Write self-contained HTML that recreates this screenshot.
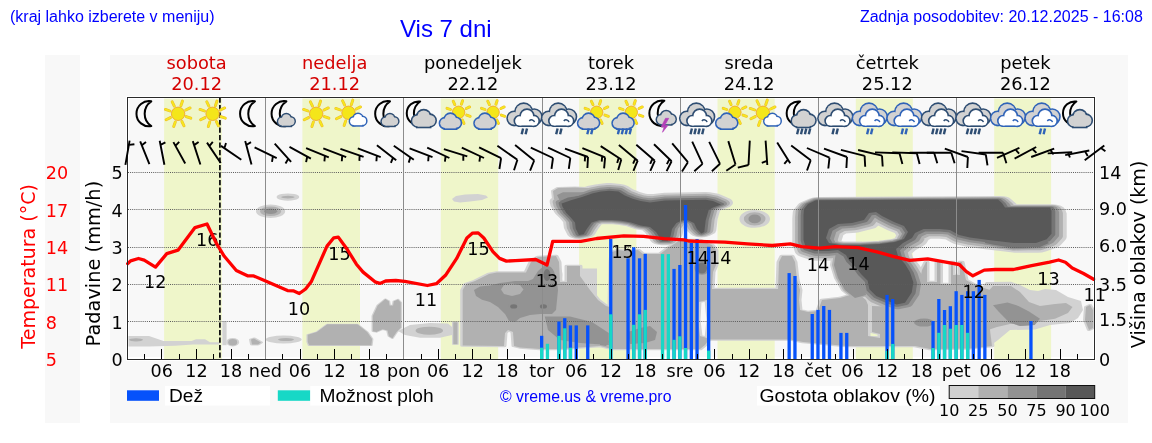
<!DOCTYPE html><html><head><meta charset="utf-8"><style>html,body{margin:0;padding:0;background:#fff;overflow:hidden}svg{display:block}</style></head><body>
<svg width="1152" height="443" viewBox="0 0 1152 443">
<rect width="1152" height="443" fill="#fff"/>
<text x="10" y="21.5" font-family="'Liberation Sans', Arial, sans-serif" font-size="16" fill="#0000ff">(kraj lahko izberete v meniju)</text>
<text x="400" y="37.2" font-family="'Liberation Sans', Arial, sans-serif" font-size="24" fill="#0000ff">Vis 7 dni</text>
<text x="1142.8" y="21.5" text-anchor="end" font-family="'Liberation Sans', Arial, sans-serif" font-size="16" fill="#0000ff">Zadnja posodobitev: 20.12.2025 - 16:08</text>
<rect x="45" y="55" width="35" height="368" fill="#f8f8f8"/>
<rect x="110" y="55" width="1018" height="368" fill="#f8f8f8"/>
<rect x="126" y="96" width="970" height="265" fill="#fff"/>
<rect x="129" y="99" width="964" height="258" fill="#f8f8f8"/>
<rect x="164.1" y="98.6" width="57.7" height="260.4" fill="#eff6ca"/>
<rect x="302.4" y="98.6" width="57.6" height="260.4" fill="#eff6ca"/>
<rect x="440.8" y="98.6" width="57.4" height="260.4" fill="#eff6ca"/>
<rect x="579.1" y="98.6" width="57.3" height="260.4" fill="#eff6ca"/>
<rect x="717.5" y="98.6" width="57.2" height="260.4" fill="#eff6ca"/>
<rect x="855.8" y="98.6" width="57" height="260.4" fill="#eff6ca"/>
<rect x="994.2" y="98.6" width="56.9" height="260.4" fill="#eff6ca"/>
<g transform="scale(1,0.5)" stroke-linejoin="round" fill-rule="evenodd">
<path d="M561.6 406.8 L571 400.6 L582 394 L593 386.4 L601 383.2 L609 381.6 L618.5 383.2 L624.8 391 L632.7 397.4 L640.6 402 L650 404.8 L665 401 L705.7 399.4 L713 402 L721 409 L713 415 L708.7 419.8 L705.7 440.4 L704.3 463.8 L701.3 466.8 L696.9 458 L694 446.2 L688.1 440.4 L682.3 440.4 L676.4 446.2 L672 458 L670.5 472.6 L667.6 482 L662 482 L656 464 L650 454 L640.6 451.2 L631 444.8 L621.6 441.6 L612 440 L599.5 440 L591.6 444.8 L586.9 457.4 L583.7 468.4 L579 470 L575.8 457.4 L575 444.8 L571 435.4 L566.3 426 L562.4 413.2Z" fill="#d2d2d2" stroke="#d2d2d2" stroke-width="24" transform="translate(0,-3.6)"/>
<path d="M553 382 L558 376 L575 375.2 L592 376.4 L602 378.8 L585 385 L570 392 L560 398 L554 398Z" fill="#d2d2d2" stroke="#d2d2d2" stroke-width="4"/>
<path d="M557 390 L563 384.4 L580 384.4 L592 385.2 L578 391 L566 398 L560 402Z" fill="#d2d2d2"/>
<path d="M560 402 L568 394.8 L582 391.2 L592 386.4 L596 385.2 L582 394 L571 400.6 L562 406.8Z" fill="#d2d2d2"/>
<path d="M804 418 L808 408 L816 400.6 L998 399 L1002 406 L1005 415.2 L1050.3 415.2 L1051.5 422 L1051.5 467.6 L1046.7 478.4 L1036 486 L1014 486 L988.5 480 L970 475 L959 470 L950 460 L940 458 L923.6 458 L915 466 L912 476 L903 486 L896 498 L898 512 L905 528 L910 544.4 L913.4 564.8 L911.7 585 L905 605.4 L896.5 608.8 L888 602 L876.2 592 L869.4 578.4 L867.7 561.4 L861 548 L855.9 534.4 L849 520.8 L846 510 L838 500 L828 502 L815 502 L806 496 L803.5 480 L803.5 430ZM826 476 L829 458 L838 448 L852 446 L864 440 L869 426 L876 424 L882 432 L894 444 L904 452 L908 464 L904 478 L895 484 L880 488 L860 490 L840 490 L829 486Z" fill="#d2d2d2" stroke="#d2d2d2" stroke-width="26.4" transform="translate(2,6.4)"/>
<path d="M264 422.4 a6.6 5.6 0 1 0 13.2 0 a6.6 5.6 0 1 0 -13.2 0Z" fill="#d2d2d2" stroke="#d2d2d2" stroke-width="16"/>
<path d="M281.1 394.2 a6.8 2.6 0 1 0 13.6 0 a6.8 2.6 0 1 0 -13.6 0Z" fill="#d2d2d2" stroke="#d2d2d2" stroke-width="9"/>
<path d="M452 398 L456 392 L465 389 L478 388 L486 391 L488 395 L482 400 L470 403 L460 405 L454 403Z" fill="#d2d2d2"/>
<path d="M748.4 437.8 a6.3 8.8 0 1 0 12.6 0 a6.3 8.8 0 1 0 -12.6 0Z" fill="#d2d2d2" stroke="#d2d2d2" stroke-width="18"/>
<path d="M128.5 672 L149 672 L163.5 682 L191.5 682 L196 678.4 L205 678.4 L210 684.4 L219.5 684.4 L219.5 689.2 L193 689.2 L175 691.6 L149 693 L128.5 693Z" fill="#d2d2d2"/>
<path d="M129 679.6 a7 3.2 0 1 0 14 0 a7 3.2 0 1 0 -14 0Z" fill="#d2d2d2"/>
<path d="M222.4 643 L226.6 643 L226.6 690.4 L222.4 690.4Z" fill="#d2d2d2"/>
<path d="M228.2 684.4 a4.5 6.6 0 1 0 9 0 a4.5 6.6 0 1 0 -9 0Z" fill="#d2d2d2" stroke="#d2d2d2" stroke-width="4"/>
<path d="M251 679 L254 677 L261 685 L258 689 L252 689Z" fill="#d2d2d2" stroke="#d2d2d2" stroke-width="4"/>
<path d="M265.7 679 a18 8 0 1 0 36 0 a18 8 0 1 0 -36 0Z" fill="#d2d2d2"/>
<path d="M278 679.2 a8 3 0 1 0 16 0 a8 3 0 1 0 -16 0Z" fill="#d2d2d2"/>
<path d="M307.7 669.6 L316.8 664 L327.3 648.6 L357.4 648.6 L367.2 664 L372.1 678 L371.4 690.6 L309.1 690.6 L307.7 683.6Z" fill="#d2d2d2" stroke="#d2d2d2" stroke-width="2.6"/>
<path d="M372.8 631.8 L377.7 610.8 L385.4 598.2 L388.9 602.4 L389.6 610.8 L393.1 610.8 L393.8 602.4 L398 599 L400.8 605.2 L400.8 655.6 L396.6 664 L392.4 676.6 L388.9 672.4 L387.5 661.2 L382.6 658.4 L376.3 664 L372.8 662.6Z" fill="#d2d2d2" stroke="#d2d2d2" stroke-width="2.6"/>
<path d="M398 662 L410 650 L430 646 L448 647 L452 654 L452 670 L440 675.4 L420 675.4 L405 670Z" fill="#d2d2d2"/>
<path d="M415.6 661.4 a13.7 8 0 1 0 27.4 0 a13.7 8 0 1 0 -27.4 0Z" fill="#d2d2d2"/>
<path d="M453.3 644.6 L457.5 644.6 L457.5 688.4 L453.3 688.4Z" fill="#d2d2d2" stroke="#d2d2d2" stroke-width="2.6"/>
<path d="M462.7 580 L466 568 L475 562 L489 548 L497 545 L526 545 L531 524 L538 514 L556 512 L559 524 L560 564 L567 564 L567 532 L580 532 L580 552 L590 580 L598 600 L606 612 L610 614 L611 524 L612 504 L618 500 L626 502 L638 500 L643 508 L660 508 L668 496 L680 480 L700 480 L712 490 L716 500 L716 530 L713 544 L712 578 L740 578 L778 578 L779 524 L782 512 L792 512 L795 524 L797 560 L800 580 L799 600 L800 620 L808 624 L818 622 L822 600 L840 596 L850 590 L860 590 L866 600 L868 610 L868 672 L880 676 L880 668 L872 664 L872 612 L900 614 L915 600 L918 580 L922 540 L926 524 L927 524 L927 564 L937 564 L937 524 L940.5 524 L940.5 568 L951 568 L951 524 L953 524 L953 550 L960 550 L960 524 L962 524 L966 560 L975 570 L984 576 L990 580 L992 600 L990 660 L992 692 L970 696.8 L930 698 L915 692 L853 692 L846 692 L835 690 L803 684 L790 678.8 L709 678.8 L705 690 L700 698 L612 698 L600 692 L560 698 L540 698 L520 695 L514 692 L513 664 L508 660 L505 666 L504 692 L462.7 691ZM699 604 L707 600 L709 640 L707 676 L700 672 L698 640Z" fill="#d2d2d2" stroke="#d2d2d2" stroke-width="5"/>
<path d="M628 664 L640 656 L650 652 L657 664 L655 680 L645 686 L630 688Z" fill="#d2d2d2"/>
<path d="M600 674 L606 672 L609 684 L606 692 L600 690Z" fill="#d2d2d2"/>
<path d="M580 537 L597 537 L597 598 L590 582 L580 556Z" fill="#d2d2d2"/>
<path d="M474 580 L480 573 L490 571 L500 566 L515 562 L528 562 L533 558 L538 542 L545 530 L551 534 L555 550 L557 566 L558 580 L557 600 L556 620 L552 628 L540 628 L530 630 L520 636 L515 644 L509 642 L505 628 L498 614 L490 604 L482 599.6 L476 592ZM501 579 L504 570 L512 567 L520 570 L523.5 579 L520 588 L512 592 L504 588Z" fill="#d2d2d2"/>
<path d="M544.8 632.8 L570 632.8 L592 644 L608.8 666 L608.8 690 L580 686 L560 680 L548 660Z" fill="#d2d2d2"/>
<path d="M510.2 612.8 a3.5 4.4 0 1 0 7 0 a3.5 4.4 0 1 0 -7 0Z" fill="#d2d2d2" stroke="#d2d2d2" stroke-width="12"/>
<path d="M697 536 a5 11 0 1 0 10 0 a5 11 0 1 0 -10 0Z" fill="#d2d2d2" stroke="#d2d2d2" stroke-width="15"/>
<path d="M539.9 612.8 a3.5 4.4 0 1 0 7 0 a3.5 4.4 0 1 0 -7 0Z" fill="#d2d2d2" stroke="#d2d2d2" stroke-width="12"/>
<path d="M543.5 550 a3.5 12 0 1 0 7 0 a3.5 12 0 1 0 -7 0Z" fill="#d2d2d2" stroke="#d2d2d2" stroke-width="24"/>
<path d="M980 580 L986 564 L1011 563.4 L1020 570 L1030 580 L1038 582 L1045 578 L1056 580 L1068 594 L1081 602 L1083 620 L1078 636 L1070 646 L1050 650 L1035 659.2 L1010 660 L998 680 L990 692 L980 692Z" fill="#d2d2d2"/>
<path d="M987.6 584 L993 572 L1011 572 L1020 584 L1029 604 L1040 612 L1055 608 L1066 606 L1072.5 614 L1068 626 L1055 637.6 L1040 642 L1030 648 L1010 648 L997 654 L988 660Z" fill="#d2d2d2"/>
<path d="M993 610.4 L1007.5 605 L1018.4 612 L1029 623 L1040 637.6 L1034.6 650 L1020 652 L1009.3 644.8 L998.5 623Z" fill="#d2d2d2"/>
<path d="M1086 614 L1090 610 L1093 620 L1093 656 L1089 660 L1085 640Z" fill="#d2d2d2" stroke="#d2d2d2" stroke-width="4"/>
<path d="M836 504 L846 504 L852 524 L858 544 L864 568 L866 590 L855 596 L845 580 L838 556 L834 530Z" fill="#d2d2d2" stroke="#d2d2d2" stroke-width="8"/>
<path d="M985 480 L1000 483 L1014 488 L1036 489 L1046 482 L1049 486 L1040 494 L1014 496 L995 490 L985 486Z" fill="#d2d2d2" stroke="#d2d2d2" stroke-width="15"/>
<path d="M914 645.2 a10 8 0 1 0 20 0 a10 8 0 1 0 -20 0Z" fill="#d2d2d2"/>
<path d="M561.6 406.8 L571 400.6 L582 394 L593 386.4 L601 383.2 L609 381.6 L618.5 383.2 L624.8 391 L632.7 397.4 L640.6 402 L650 404.8 L665 401 L705.7 399.4 L713 402 L721 409 L713 415 L708.7 419.8 L705.7 440.4 L704.3 463.8 L701.3 466.8 L696.9 458 L694 446.2 L688.1 440.4 L682.3 440.4 L676.4 446.2 L672 458 L670.5 472.6 L667.6 482 L662 482 L656 464 L650 454 L640.6 451.2 L631 444.8 L621.6 441.6 L612 440 L599.5 440 L591.6 444.8 L586.9 457.4 L583.7 468.4 L579 470 L575.8 457.4 L575 444.8 L571 435.4 L566.3 426 L562.4 413.2Z" fill="#b1b1b1" stroke="#b1b1b1" stroke-width="18" transform="translate(0,-2.7)"/>
<path d="M553 382 L558 376 L575 375.2 L592 376.4 L602 378.8 L585 385 L570 392 L560 398 L554 398Z" fill="#b1b1b1"/>
<path d="M557 390 L563 384.4 L580 384.4 L592 385.2 L578 391 L566 398 L560 402Z" fill="#b1b1b1"/>
<path d="M560 402 L568 394.8 L582 391.2 L592 386.4 L596 385.2 L582 394 L571 400.6 L562 406.8Z" fill="#b1b1b1"/>
<path d="M804 418 L808 408 L816 400.6 L998 399 L1002 406 L1005 415.2 L1050.3 415.2 L1051.5 422 L1051.5 467.6 L1046.7 478.4 L1036 486 L1014 486 L988.5 480 L970 475 L959 470 L950 460 L940 458 L923.6 458 L915 466 L912 476 L903 486 L896 498 L898 512 L905 528 L910 544.4 L913.4 564.8 L911.7 585 L905 605.4 L896.5 608.8 L888 602 L876.2 592 L869.4 578.4 L867.7 561.4 L861 548 L855.9 534.4 L849 520.8 L846 510 L838 500 L828 502 L815 502 L806 496 L803.5 480 L803.5 430ZM826 476 L829 458 L838 448 L852 446 L864 440 L869 426 L876 424 L882 432 L894 444 L904 452 L908 464 L904 478 L895 484 L880 488 L860 490 L840 490 L829 486Z" fill="#b1b1b1" stroke="#b1b1b1" stroke-width="19.8" transform="translate(1.5,4.8)"/>
<path d="M264 422.4 a6.6 5.6 0 1 0 13.2 0 a6.6 5.6 0 1 0 -13.2 0Z" fill="#b1b1b1" stroke="#b1b1b1" stroke-width="8"/>
<path d="M281.1 394.2 a6.8 2.6 0 1 0 13.6 0 a6.8 2.6 0 1 0 -13.6 0Z" fill="#b1b1b1"/>
<path d="M748.4 437.8 a6.3 8.8 0 1 0 12.6 0 a6.3 8.8 0 1 0 -12.6 0Z" fill="#b1b1b1" stroke="#b1b1b1" stroke-width="9"/>
<path d="M129 679.6 a7 3.2 0 1 0 14 0 a7 3.2 0 1 0 -14 0Z" fill="#b1b1b1"/>
<path d="M228.2 684.4 a4.5 6.6 0 1 0 9 0 a4.5 6.6 0 1 0 -9 0Z" fill="#b1b1b1"/>
<path d="M251 679 L254 677 L261 685 L258 689 L252 689Z" fill="#b1b1b1"/>
<path d="M278 679.2 a8 3 0 1 0 16 0 a8 3 0 1 0 -16 0Z" fill="#b1b1b1"/>
<path d="M307.7 669.6 L316.8 664 L327.3 648.6 L357.4 648.6 L367.2 664 L372.1 678 L371.4 690.6 L309.1 690.6 L307.7 683.6Z" fill="#b1b1b1"/>
<path d="M372.8 631.8 L377.7 610.8 L385.4 598.2 L388.9 602.4 L389.6 610.8 L393.1 610.8 L393.8 602.4 L398 599 L400.8 605.2 L400.8 655.6 L396.6 664 L392.4 676.6 L388.9 672.4 L387.5 661.2 L382.6 658.4 L376.3 664 L372.8 662.6Z" fill="#b1b1b1"/>
<path d="M415.6 661.4 a13.7 8 0 1 0 27.4 0 a13.7 8 0 1 0 -27.4 0Z" fill="#b1b1b1"/>
<path d="M453.3 644.6 L457.5 644.6 L457.5 688.4 L453.3 688.4Z" fill="#b1b1b1"/>
<path d="M462.7 580 L466 568 L475 562 L489 548 L497 545 L526 545 L531 524 L538 514 L556 512 L559 524 L560 564 L567 564 L567 532 L580 532 L580 552 L590 580 L598 600 L606 612 L610 614 L611 524 L612 504 L618 500 L626 502 L638 500 L643 508 L660 508 L668 496 L680 480 L700 480 L712 490 L716 500 L716 530 L713 544 L712 578 L740 578 L778 578 L779 524 L782 512 L792 512 L795 524 L797 560 L800 580 L799 600 L800 620 L808 624 L818 622 L822 600 L840 596 L850 590 L860 590 L866 600 L868 610 L868 672 L880 676 L880 668 L872 664 L872 612 L900 614 L915 600 L918 580 L922 540 L926 524 L927 524 L927 564 L937 564 L937 524 L940.5 524 L940.5 568 L951 568 L951 524 L953 524 L953 550 L960 550 L960 524 L962 524 L966 560 L975 570 L984 576 L990 580 L992 600 L990 660 L992 692 L970 696.8 L930 698 L915 692 L853 692 L846 692 L835 690 L803 684 L790 678.8 L709 678.8 L705 690 L700 698 L612 698 L600 692 L560 698 L540 698 L520 695 L514 692 L513 664 L508 660 L505 666 L504 692 L462.7 691ZM699 604 L707 600 L709 640 L707 676 L700 672 L698 640Z" fill="#b1b1b1"/>
<path d="M628 664 L640 656 L650 652 L657 664 L655 680 L645 686 L630 688Z" fill="#b1b1b1"/>
<path d="M600 674 L606 672 L609 684 L606 692 L600 690Z" fill="#b1b1b1"/>
<path d="M474 580 L480 573 L490 571 L500 566 L515 562 L528 562 L533 558 L538 542 L545 530 L551 534 L555 550 L557 566 L558 580 L557 600 L556 620 L552 628 L540 628 L530 630 L520 636 L515 644 L509 642 L505 628 L498 614 L490 604 L482 599.6 L476 592ZM501 579 L504 570 L512 567 L520 570 L523.5 579 L520 588 L512 592 L504 588Z" fill="#b1b1b1"/>
<path d="M544.8 632.8 L570 632.8 L592 644 L608.8 666 L608.8 690 L580 686 L560 680 L548 660Z" fill="#b1b1b1"/>
<path d="M510.2 612.8 a3.5 4.4 0 1 0 7 0 a3.5 4.4 0 1 0 -7 0Z" fill="#b1b1b1" stroke="#b1b1b1" stroke-width="8"/>
<path d="M697 536 a5 11 0 1 0 10 0 a5 11 0 1 0 -10 0Z" fill="#b1b1b1" stroke="#b1b1b1" stroke-width="10"/>
<path d="M539.9 612.8 a3.5 4.4 0 1 0 7 0 a3.5 4.4 0 1 0 -7 0Z" fill="#b1b1b1" stroke="#b1b1b1" stroke-width="8"/>
<path d="M543.5 550 a3.5 12 0 1 0 7 0 a3.5 12 0 1 0 -7 0Z" fill="#b1b1b1" stroke="#b1b1b1" stroke-width="16"/>
<path d="M987.6 584 L993 572 L1011 572 L1020 584 L1029 604 L1040 612 L1055 608 L1066 606 L1072.5 614 L1068 626 L1055 637.6 L1040 642 L1030 648 L1010 648 L997 654 L988 660Z" fill="#b1b1b1"/>
<path d="M993 610.4 L1007.5 605 L1018.4 612 L1029 623 L1040 637.6 L1034.6 650 L1020 652 L1009.3 644.8 L998.5 623Z" fill="#b1b1b1"/>
<path d="M1086 614 L1090 610 L1093 620 L1093 656 L1089 660 L1085 640Z" fill="#b1b1b1"/>
<path d="M836 504 L846 504 L852 524 L858 544 L864 568 L866 590 L855 596 L845 580 L838 556 L834 530Z" fill="#b1b1b1" stroke="#b1b1b1" stroke-width="4"/>
<path d="M985 480 L1000 483 L1014 488 L1036 489 L1046 482 L1049 486 L1040 494 L1014 496 L995 490 L985 486Z" fill="#b1b1b1" stroke="#b1b1b1" stroke-width="10"/>
<path d="M914 645.2 a10 8 0 1 0 20 0 a10 8 0 1 0 -20 0Z" fill="#b1b1b1"/>
<path d="M561.6 406.8 L571 400.6 L582 394 L593 386.4 L601 383.2 L609 381.6 L618.5 383.2 L624.8 391 L632.7 397.4 L640.6 402 L650 404.8 L665 401 L705.7 399.4 L713 402 L721 409 L713 415 L708.7 419.8 L705.7 440.4 L704.3 463.8 L701.3 466.8 L696.9 458 L694 446.2 L688.1 440.4 L682.3 440.4 L676.4 446.2 L672 458 L670.5 472.6 L667.6 482 L662 482 L656 464 L650 454 L640.6 451.2 L631 444.8 L621.6 441.6 L612 440 L599.5 440 L591.6 444.8 L586.9 457.4 L583.7 468.4 L579 470 L575.8 457.4 L575 444.8 L571 435.4 L566.3 426 L562.4 413.2Z" fill="#939393" stroke="#939393" stroke-width="12" transform="translate(0,-1.8)"/>
<path d="M557 390 L563 384.4 L580 384.4 L592 385.2 L578 391 L566 398 L560 402Z" fill="#939393"/>
<path d="M560 402 L568 394.8 L582 391.2 L592 386.4 L596 385.2 L582 394 L571 400.6 L562 406.8Z" fill="#939393"/>
<path d="M804 418 L808 408 L816 400.6 L998 399 L1002 406 L1005 415.2 L1050.3 415.2 L1051.5 422 L1051.5 467.6 L1046.7 478.4 L1036 486 L1014 486 L988.5 480 L970 475 L959 470 L950 460 L940 458 L923.6 458 L915 466 L912 476 L903 486 L896 498 L898 512 L905 528 L910 544.4 L913.4 564.8 L911.7 585 L905 605.4 L896.5 608.8 L888 602 L876.2 592 L869.4 578.4 L867.7 561.4 L861 548 L855.9 534.4 L849 520.8 L846 510 L838 500 L828 502 L815 502 L806 496 L803.5 480 L803.5 430ZM826 476 L829 458 L838 448 L852 446 L864 440 L869 426 L876 424 L882 432 L894 444 L904 452 L908 464 L904 478 L895 484 L880 488 L860 490 L840 490 L829 486Z" fill="#939393" stroke="#939393" stroke-width="13.2" transform="translate(1,3.2)"/>
<path d="M264 422.4 a6.6 5.6 0 1 0 13.2 0 a6.6 5.6 0 1 0 -13.2 0Z" fill="#939393"/>
<path d="M748.4 437.8 a6.3 8.8 0 1 0 12.6 0 a6.3 8.8 0 1 0 -12.6 0Z" fill="#939393"/>
<path d="M628 664 L640 656 L650 652 L657 664 L655 680 L645 686 L630 688Z" fill="#939393"/>
<path d="M600 674 L606 672 L609 684 L606 692 L600 690Z" fill="#939393"/>
<path d="M474 580 L480 573 L490 571 L500 566 L515 562 L528 562 L533 558 L538 542 L545 530 L551 534 L555 550 L557 566 L558 580 L557 600 L556 620 L552 628 L540 628 L530 630 L520 636 L515 644 L509 642 L505 628 L498 614 L490 604 L482 599.6 L476 592ZM501 579 L504 570 L512 567 L520 570 L523.5 579 L520 588 L512 592 L504 588Z" fill="#939393"/>
<path d="M544.8 632.8 L570 632.8 L592 644 L608.8 666 L608.8 690 L580 686 L560 680 L548 660Z" fill="#939393"/>
<path d="M510.2 612.8 a3.5 4.4 0 1 0 7 0 a3.5 4.4 0 1 0 -7 0Z" fill="#939393" stroke="#939393" stroke-width="4"/>
<path d="M697 536 a5 11 0 1 0 10 0 a5 11 0 1 0 -10 0Z" fill="#939393" stroke="#939393" stroke-width="5"/>
<path d="M539.9 612.8 a3.5 4.4 0 1 0 7 0 a3.5 4.4 0 1 0 -7 0Z" fill="#939393" stroke="#939393" stroke-width="4"/>
<path d="M543.5 550 a3.5 12 0 1 0 7 0 a3.5 12 0 1 0 -7 0Z" fill="#939393" stroke="#939393" stroke-width="8"/>
<path d="M993 610.4 L1007.5 605 L1018.4 612 L1029 623 L1040 637.6 L1034.6 650 L1020 652 L1009.3 644.8 L998.5 623Z" fill="#939393"/>
<path d="M836 504 L846 504 L852 524 L858 544 L864 568 L866 590 L855 596 L845 580 L838 556 L834 530Z" fill="#939393"/>
<path d="M985 480 L1000 483 L1014 488 L1036 489 L1046 482 L1049 486 L1040 494 L1014 496 L995 490 L985 486Z" fill="#939393" stroke="#939393" stroke-width="5"/>
<path d="M914 645.2 a10 8 0 1 0 20 0 a10 8 0 1 0 -20 0Z" fill="#939393"/>
<path d="M561.6 406.8 L571 400.6 L582 394 L593 386.4 L601 383.2 L609 381.6 L618.5 383.2 L624.8 391 L632.7 397.4 L640.6 402 L650 404.8 L665 401 L705.7 399.4 L713 402 L721 409 L713 415 L708.7 419.8 L705.7 440.4 L704.3 463.8 L701.3 466.8 L696.9 458 L694 446.2 L688.1 440.4 L682.3 440.4 L676.4 446.2 L672 458 L670.5 472.6 L667.6 482 L662 482 L656 464 L650 454 L640.6 451.2 L631 444.8 L621.6 441.6 L612 440 L599.5 440 L591.6 444.8 L586.9 457.4 L583.7 468.4 L579 470 L575.8 457.4 L575 444.8 L571 435.4 L566.3 426 L562.4 413.2Z" fill="#757575" stroke="#757575" stroke-width="6" transform="translate(0,-0.9)"/>
<path d="M560 402 L568 394.8 L582 391.2 L592 386.4 L596 385.2 L582 394 L571 400.6 L562 406.8Z" fill="#757575"/>
<path d="M804 418 L808 408 L816 400.6 L998 399 L1002 406 L1005 415.2 L1050.3 415.2 L1051.5 422 L1051.5 467.6 L1046.7 478.4 L1036 486 L1014 486 L988.5 480 L970 475 L959 470 L950 460 L940 458 L923.6 458 L915 466 L912 476 L903 486 L896 498 L898 512 L905 528 L910 544.4 L913.4 564.8 L911.7 585 L905 605.4 L896.5 608.8 L888 602 L876.2 592 L869.4 578.4 L867.7 561.4 L861 548 L855.9 534.4 L849 520.8 L846 510 L838 500 L828 502 L815 502 L806 496 L803.5 480 L803.5 430ZM826 476 L829 458 L838 448 L852 446 L864 440 L869 426 L876 424 L882 432 L894 444 L904 452 L908 464 L904 478 L895 484 L880 488 L860 490 L840 490 L829 486Z" fill="#757575" stroke="#757575" stroke-width="6.6" transform="translate(0.5,1.6)"/>
<path d="M510.2 612.8 a3.5 4.4 0 1 0 7 0 a3.5 4.4 0 1 0 -7 0Z" fill="#757575"/>
<path d="M697 536 a5 11 0 1 0 10 0 a5 11 0 1 0 -10 0Z" fill="#757575"/>
<path d="M539.9 612.8 a3.5 4.4 0 1 0 7 0 a3.5 4.4 0 1 0 -7 0Z" fill="#757575"/>
<path d="M543.5 550 a3.5 12 0 1 0 7 0 a3.5 12 0 1 0 -7 0Z" fill="#757575"/>
<path d="M985 480 L1000 483 L1014 488 L1036 489 L1046 482 L1049 486 L1040 494 L1014 496 L995 490 L985 486Z" fill="#757575"/>
<path d="M561.6 406.8 L571 400.6 L582 394 L593 386.4 L601 383.2 L609 381.6 L618.5 383.2 L624.8 391 L632.7 397.4 L640.6 402 L650 404.8 L665 401 L705.7 399.4 L713 402 L721 409 L713 415 L708.7 419.8 L705.7 440.4 L704.3 463.8 L701.3 466.8 L696.9 458 L694 446.2 L688.1 440.4 L682.3 440.4 L676.4 446.2 L672 458 L670.5 472.6 L667.6 482 L662 482 L656 464 L650 454 L640.6 451.2 L631 444.8 L621.6 441.6 L612 440 L599.5 440 L591.6 444.8 L586.9 457.4 L583.7 468.4 L579 470 L575.8 457.4 L575 444.8 L571 435.4 L566.3 426 L562.4 413.2Z" fill="#585858"/>
<path d="M804 418 L808 408 L816 400.6 L998 399 L1002 406 L1005 415.2 L1050.3 415.2 L1051.5 422 L1051.5 467.6 L1046.7 478.4 L1036 486 L1014 486 L988.5 480 L970 475 L959 470 L950 460 L940 458 L923.6 458 L915 466 L912 476 L903 486 L896 498 L898 512 L905 528 L910 544.4 L913.4 564.8 L911.7 585 L905 605.4 L896.5 608.8 L888 602 L876.2 592 L869.4 578.4 L867.7 561.4 L861 548 L855.9 534.4 L849 520.8 L846 510 L838 500 L828 502 L815 502 L806 496 L803.5 480 L803.5 430ZM826 476 L829 458 L838 448 L852 446 L864 440 L869 426 L876 424 L882 432 L894 444 L904 452 L908 464 L904 478 L895 484 L880 488 L860 490 L840 490 L829 486Z" fill="#585858"/>
</g>
<line x1="128" y1="321.5" x2="1094" y2="321.5" stroke="#5c5c5c" stroke-width="1" stroke-dasharray="1 1.1"/>
<line x1="128" y1="284.5" x2="1094" y2="284.5" stroke="#5c5c5c" stroke-width="1" stroke-dasharray="1 1.1"/>
<line x1="128" y1="247.5" x2="1094" y2="247.5" stroke="#5c5c5c" stroke-width="1" stroke-dasharray="1 1.1"/>
<line x1="128" y1="209.5" x2="1094" y2="209.5" stroke="#5c5c5c" stroke-width="1" stroke-dasharray="1 1.1"/>
<line x1="128" y1="172.5" x2="1094" y2="172.5" stroke="#5c5c5c" stroke-width="1" stroke-dasharray="1 1.1"/>
<line x1="265.5" y1="98" x2="265.5" y2="359" stroke="#8c8c8c" stroke-width="1"/>
<line x1="403.5" y1="98" x2="403.5" y2="359" stroke="#8c8c8c" stroke-width="1"/>
<line x1="542.5" y1="98" x2="542.5" y2="359" stroke="#8c8c8c" stroke-width="1"/>
<line x1="680.5" y1="98" x2="680.5" y2="359" stroke="#8c8c8c" stroke-width="1"/>
<line x1="818.5" y1="98" x2="818.5" y2="359" stroke="#8c8c8c" stroke-width="1"/>
<line x1="956.5" y1="98" x2="956.5" y2="359" stroke="#8c8c8c" stroke-width="1"/>
<rect x="540" y="335.8" width="3.3" height="23.2" fill="#0652fb"/>
<rect x="540" y="347.7" width="3.3" height="11.3" fill="#17d8c6"/>
<rect x="545.8" y="343.8" width="3.3" height="15.2" fill="#17d8c6"/>
<rect x="557.3" y="321.5" width="3.3" height="37.5" fill="#0652fb"/>
<rect x="557.3" y="335.8" width="3.3" height="23.2" fill="#17d8c6"/>
<rect x="563.1" y="318.2" width="3.3" height="40.8" fill="#0652fb"/>
<rect x="563.1" y="328.3" width="3.3" height="30.7" fill="#17d8c6"/>
<rect x="568.8" y="325.4" width="3.3" height="33.6" fill="#0652fb"/>
<rect x="568.8" y="347.7" width="3.3" height="11.3" fill="#17d8c6"/>
<rect x="574.6" y="325.4" width="3.3" height="33.6" fill="#0652fb"/>
<rect x="586.1" y="325.4" width="3.3" height="33.6" fill="#0652fb"/>
<rect x="609.1" y="239" width="3.3" height="120" fill="#0652fb"/>
<rect x="609.1" y="314.3" width="3.3" height="44.7" fill="#17d8c6"/>
<rect x="626.4" y="258.3" width="3.3" height="100.7" fill="#0652fb"/>
<rect x="632.1" y="247.3" width="3.3" height="111.7" fill="#0652fb"/>
<rect x="632.1" y="324.8" width="3.3" height="34.2" fill="#17d8c6"/>
<rect x="637.9" y="258.3" width="3.3" height="100.7" fill="#0652fb"/>
<rect x="637.9" y="314.3" width="3.3" height="44.7" fill="#17d8c6"/>
<rect x="643.6" y="253.8" width="3.3" height="105.2" fill="#0652fb"/>
<rect x="643.6" y="309.9" width="3.3" height="49.1" fill="#17d8c6"/>
<rect x="660.9" y="254.1" width="3.3" height="104.9" fill="#17d8c6"/>
<rect x="666.7" y="254.1" width="3.3" height="104.9" fill="#17d8c6"/>
<rect x="672.4" y="268.9" width="3.3" height="90.1" fill="#0652fb"/>
<rect x="672.4" y="339.8" width="3.3" height="19.2" fill="#17d8c6"/>
<rect x="678.2" y="265" width="3.3" height="94" fill="#0652fb"/>
<rect x="678.2" y="336.3" width="3.3" height="22.7" fill="#17d8c6"/>
<rect x="683.9" y="205" width="3.3" height="154" fill="#0652fb"/>
<rect x="683.9" y="348" width="3.3" height="11" fill="#17d8c6"/>
<rect x="689.7" y="243" width="3.3" height="116" fill="#0652fb"/>
<rect x="695.4" y="239.1" width="3.3" height="119.9" fill="#0652fb"/>
<rect x="707" y="246.8" width="3.3" height="112.2" fill="#0652fb"/>
<rect x="707" y="350.6" width="3.3" height="8.4" fill="#17d8c6"/>
<rect x="787.5" y="273.1" width="3.3" height="85.9" fill="#0652fb"/>
<rect x="793.3" y="276" width="3.3" height="83" fill="#0652fb"/>
<rect x="810.6" y="314" width="3.3" height="45" fill="#0652fb"/>
<rect x="816.3" y="309.9" width="3.3" height="49.1" fill="#0652fb"/>
<rect x="822.1" y="306" width="3.3" height="53" fill="#0652fb"/>
<rect x="827.8" y="309.9" width="3.3" height="49.1" fill="#0652fb"/>
<rect x="839.3" y="332.9" width="3.3" height="26.1" fill="#0652fb"/>
<rect x="845.1" y="332.9" width="3.3" height="26.1" fill="#0652fb"/>
<rect x="885.4" y="294.9" width="3.3" height="64.1" fill="#0652fb"/>
<rect x="885.4" y="350.9" width="3.3" height="8.1" fill="#17d8c6"/>
<rect x="891.1" y="299" width="3.3" height="60" fill="#0652fb"/>
<rect x="891.1" y="343.9" width="3.3" height="15.1" fill="#17d8c6"/>
<rect x="931.4" y="321" width="3.3" height="38" fill="#0652fb"/>
<rect x="931.4" y="348" width="3.3" height="11" fill="#17d8c6"/>
<rect x="937.2" y="299" width="3.3" height="60" fill="#0652fb"/>
<rect x="937.2" y="332.8" width="3.3" height="26.2" fill="#17d8c6"/>
<rect x="942.9" y="310" width="3.3" height="49" fill="#0652fb"/>
<rect x="942.9" y="325" width="3.3" height="34" fill="#17d8c6"/>
<rect x="948.7" y="306.2" width="3.3" height="52.8" fill="#0652fb"/>
<rect x="948.7" y="328.7" width="3.3" height="30.3" fill="#17d8c6"/>
<rect x="954.5" y="291.2" width="3.3" height="67.8" fill="#0652fb"/>
<rect x="954.5" y="325" width="3.3" height="34" fill="#17d8c6"/>
<rect x="960.2" y="294.9" width="3.3" height="64.1" fill="#0652fb"/>
<rect x="960.2" y="325" width="3.3" height="34" fill="#17d8c6"/>
<rect x="966" y="291.2" width="3.3" height="67.8" fill="#0652fb"/>
<rect x="966" y="332.8" width="3.3" height="26.2" fill="#17d8c6"/>
<rect x="971.7" y="291.2" width="3.3" height="67.8" fill="#0652fb"/>
<rect x="977.5" y="279.9" width="3.3" height="79.1" fill="#0652fb"/>
<rect x="983.2" y="294.9" width="3.3" height="64.1" fill="#0652fb"/>
<rect x="1029.3" y="321" width="3.3" height="38" fill="#0652fb"/>
<line x1="219.9" y1="97.4" x2="219.9" y2="359" stroke="#111" stroke-width="1.8" stroke-dasharray="5.3 2.2"/>
<text x="155.3" y="288.4" text-anchor="middle" font-family="'DejaVu Sans', 'Liberation Sans', sans-serif" font-size="17.6" fill="#000">12</text>
<text x="207.3" y="245.5" text-anchor="middle" font-family="'DejaVu Sans', 'Liberation Sans', sans-serif" font-size="17.6" fill="#000">16</text>
<text x="339.5" y="259.7" text-anchor="middle" font-family="'DejaVu Sans', 'Liberation Sans', sans-serif" font-size="17.6" fill="#000">15</text>
<text x="299" y="315.2" text-anchor="middle" font-family="'DejaVu Sans', 'Liberation Sans', sans-serif" font-size="17.6" fill="#000">10</text>
<text x="478.5" y="254.8" text-anchor="middle" font-family="'DejaVu Sans', 'Liberation Sans', sans-serif" font-size="17.6" fill="#000">15</text>
<text x="426" y="306.2" text-anchor="middle" font-family="'DejaVu Sans', 'Liberation Sans', sans-serif" font-size="17.6" fill="#000">11</text>
<text x="547" y="286.5" text-anchor="middle" font-family="'DejaVu Sans', 'Liberation Sans', sans-serif" font-size="17.6" fill="#000">13</text>
<text x="622.6" y="257.9" text-anchor="middle" font-family="'DejaVu Sans', 'Liberation Sans', sans-serif" font-size="17.6" fill="#000">15</text>
<text x="697.8" y="263.9" text-anchor="middle" font-family="'DejaVu Sans', 'Liberation Sans', sans-serif" font-size="17.6" fill="#000">14</text>
<text x="720.3" y="263.9" text-anchor="middle" font-family="'DejaVu Sans', 'Liberation Sans', sans-serif" font-size="17.6" fill="#000">14</text>
<text x="817.9" y="270.6" text-anchor="middle" font-family="'DejaVu Sans', 'Liberation Sans', sans-serif" font-size="17.6" fill="#000">14</text>
<text x="858.5" y="269.9" text-anchor="middle" font-family="'DejaVu Sans', 'Liberation Sans', sans-serif" font-size="17.6" fill="#000">14</text>
<text x="973.8" y="298.4" text-anchor="middle" font-family="'DejaVu Sans', 'Liberation Sans', sans-serif" font-size="17.6" fill="#000">12</text>
<text x="1048.5" y="285.3" text-anchor="middle" font-family="'DejaVu Sans', 'Liberation Sans', sans-serif" font-size="17.6" fill="#000">13</text>
<text x="1094.8" y="301.2" text-anchor="middle" font-family="'DejaVu Sans', 'Liberation Sans', sans-serif" font-size="17.6" fill="#000">11</text>
<polyline points="127.7,263.7 130.6,260.8 138.5,258.5 144.2,260.1 155.5,267.1 166.8,253.6 178,250.2 195,227.6 207,224 216.4,243.4 224.3,256.3 236.3,270.5 248,275.9 253.7,275.9 265,280.7 287.5,290.6 293.2,290.8 299.3,293.5 305.6,289 311.2,281.8 327,246.1 333.8,237.8 338.3,237.1 347.3,249.5 356.4,264.2 363.1,272.1 375.6,282.2 380,283.4 385.6,281 395.8,280.5 404.8,281.4 427.4,285.5 436.4,283.7 445.5,275.3 456.7,258.4 466.9,238 472.6,233.1 478.2,232.9 483.8,238 492.9,251.6 499.6,258.4 506.4,261.1 515.4,260.6 535.8,259.5 547,265.1 552.7,241.4 580.9,241.4 596.7,238.5 623.8,235.8 643.5,236.4 663.9,238.7 684.2,239.8 688.7,241 697.7,241.4 724.8,242.1 747.4,243.9 772.2,245.5 790.3,243.9 801.6,246.6 819.6,248.2 835.4,246.6 858,247.7 878,252.1 893.9,256.6 909.7,260.4 927.7,258.9 945.8,262.2 959.3,264.5 966.1,271.3 972.9,275.8 984.2,270.1 995.4,269.5 1013.5,269.5 1031.6,265.6 1049.6,262.2 1058.6,260 1065.4,262.2 1072.2,267.9 1083.5,273.5 1093.6,279.2" fill="none" stroke="#ff0000" stroke-width="3.3" stroke-linejoin="round" stroke-linecap="round"/>
<rect x="127.5" y="97.5" width="967" height="262" fill="none" stroke="#2a2a2a" stroke-width="1"/>
<line x1="144.5" y1="359" x2="144.5" y2="354" stroke="#000" stroke-width="1"/>
<line x1="161.5" y1="359" x2="161.5" y2="349" stroke="#000" stroke-width="1"/>
<line x1="179.5" y1="359" x2="179.5" y2="354" stroke="#000" stroke-width="1"/>
<line x1="196.5" y1="359" x2="196.5" y2="349" stroke="#000" stroke-width="1"/>
<line x1="213.5" y1="359" x2="213.5" y2="354" stroke="#000" stroke-width="1"/>
<line x1="231.5" y1="359" x2="231.5" y2="349" stroke="#000" stroke-width="1"/>
<line x1="248.5" y1="359" x2="248.5" y2="354" stroke="#000" stroke-width="1"/>
<line x1="282.5" y1="359" x2="282.5" y2="354" stroke="#000" stroke-width="1"/>
<line x1="300.5" y1="359" x2="300.5" y2="349" stroke="#000" stroke-width="1"/>
<line x1="317.5" y1="359" x2="317.5" y2="354" stroke="#000" stroke-width="1"/>
<line x1="334.5" y1="359" x2="334.5" y2="349" stroke="#000" stroke-width="1"/>
<line x1="351.5" y1="359" x2="351.5" y2="354" stroke="#000" stroke-width="1"/>
<line x1="369.5" y1="359" x2="369.5" y2="349" stroke="#000" stroke-width="1"/>
<line x1="386.5" y1="359" x2="386.5" y2="354" stroke="#000" stroke-width="1"/>
<line x1="421.5" y1="359" x2="421.5" y2="354" stroke="#000" stroke-width="1"/>
<line x1="438.5" y1="359" x2="438.5" y2="349" stroke="#000" stroke-width="1"/>
<line x1="455.5" y1="359" x2="455.5" y2="354" stroke="#000" stroke-width="1"/>
<line x1="472.5" y1="359" x2="472.5" y2="349" stroke="#000" stroke-width="1"/>
<line x1="490.5" y1="359" x2="490.5" y2="354" stroke="#000" stroke-width="1"/>
<line x1="507.5" y1="359" x2="507.5" y2="349" stroke="#000" stroke-width="1"/>
<line x1="524.5" y1="359" x2="524.5" y2="354" stroke="#000" stroke-width="1"/>
<line x1="559.5" y1="359" x2="559.5" y2="354" stroke="#000" stroke-width="1"/>
<line x1="576.5" y1="359" x2="576.5" y2="349" stroke="#000" stroke-width="1"/>
<line x1="593.5" y1="359" x2="593.5" y2="354" stroke="#000" stroke-width="1"/>
<line x1="611.5" y1="359" x2="611.5" y2="349" stroke="#000" stroke-width="1"/>
<line x1="628.5" y1="359" x2="628.5" y2="354" stroke="#000" stroke-width="1"/>
<line x1="645.5" y1="359" x2="645.5" y2="349" stroke="#000" stroke-width="1"/>
<line x1="662.5" y1="359" x2="662.5" y2="354" stroke="#000" stroke-width="1"/>
<line x1="697.5" y1="359" x2="697.5" y2="354" stroke="#000" stroke-width="1"/>
<line x1="714.5" y1="359" x2="714.5" y2="349" stroke="#000" stroke-width="1"/>
<line x1="732.5" y1="359" x2="732.5" y2="354" stroke="#000" stroke-width="1"/>
<line x1="749.5" y1="359" x2="749.5" y2="349" stroke="#000" stroke-width="1"/>
<line x1="766.5" y1="359" x2="766.5" y2="354" stroke="#000" stroke-width="1"/>
<line x1="783.5" y1="359" x2="783.5" y2="349" stroke="#000" stroke-width="1"/>
<line x1="801.5" y1="359" x2="801.5" y2="354" stroke="#000" stroke-width="1"/>
<line x1="835.5" y1="359" x2="835.5" y2="354" stroke="#000" stroke-width="1"/>
<line x1="853.5" y1="359" x2="853.5" y2="349" stroke="#000" stroke-width="1"/>
<line x1="870.5" y1="359" x2="870.5" y2="354" stroke="#000" stroke-width="1"/>
<line x1="887.5" y1="359" x2="887.5" y2="349" stroke="#000" stroke-width="1"/>
<line x1="904.5" y1="359" x2="904.5" y2="354" stroke="#000" stroke-width="1"/>
<line x1="922.5" y1="359" x2="922.5" y2="349" stroke="#000" stroke-width="1"/>
<line x1="939.5" y1="359" x2="939.5" y2="354" stroke="#000" stroke-width="1"/>
<line x1="973.5" y1="359" x2="973.5" y2="354" stroke="#000" stroke-width="1"/>
<line x1="991.5" y1="359" x2="991.5" y2="349" stroke="#000" stroke-width="1"/>
<line x1="1008.5" y1="359" x2="1008.5" y2="354" stroke="#000" stroke-width="1"/>
<line x1="1025.5" y1="359" x2="1025.5" y2="349" stroke="#000" stroke-width="1"/>
<line x1="1043.5" y1="359" x2="1043.5" y2="354" stroke="#000" stroke-width="1"/>
<line x1="1060.5" y1="359" x2="1060.5" y2="349" stroke="#000" stroke-width="1"/>
<line x1="1077.5" y1="359" x2="1077.5" y2="354" stroke="#000" stroke-width="1"/>
<g stroke="#000" stroke-width="1.9" stroke-linecap="butt" fill="none">
<path d="M125.4 164.9 L129.6 140.7 M128.9 144.9 L134.4 144.2"/>
<path d="M149.4 164.2 L140.2 141.4 M141.8 145.3 L146 141.9"/>
<path d="M164.4 164.8 L159.7 140.8 M160.5 144.9 L165.4 142.3"/>
<path d="M185.2 163.5 L173.4 142.1 M175.4 145.8 L179.2 141.8"/>
<path d="M200.4 164.5 L192.8 141.1 M194.1 145.1 L198.6 142"/>
<path d="M220.7 163 L207 142.6 M209.3 146.1 L212.8 141.9"/>
<path d="M241.3 159.7 L221 145.9 M224.4 148.3 L226 143"/>
<path d="M251.5 164.6 L245.2 141 M246.3 145 L251 142.1"/>
<path d="M254.6 147.4 L276.7 158.2 M272.9 156.3 L272 161.8"/>
<path d="M274.7 143.7 L291.1 161.9 M288.3 158.8 L285.5 163.5"/>
<path d="M289.5 146.9 L310.9 158.7 M307.2 156.7 L306.1 162.1"/>
<path d="M306.1 148.2 L328.8 157.4 M324.9 155.8 L324.4 161.3"/>
<path d="M323.3 148.4 L346.2 157.2 M342.2 155.7 L341.8 161.2"/>
<path d="M340.4 148.8 L363.6 156.8 M359.6 155.4 L359.4 160.9"/>
<path d="M357.8 148.4 L380.7 157.2 M376.8 155.7 L376.4 161.2"/>
<path d="M376.9 145.3 L396.2 160.3 M392.9 157.8 L390.9 162.9"/>
<path d="M393.8 145.8 L413.8 159.8 M410.4 157.4 L408.7 162.6"/>
<path d="M409.6 148.4 L432.5 157.2 M428.6 155.7 L428.2 161.2"/>
<path d="M427.2 147.6 L449.4 158 M445.6 156.2 L444.9 161.6"/>
<path d="M443.9 149.2 L467.3 156.4 M463.3 155.2 L463.3 160.7"/>
<path d="M461.8 147.6 L484 158 M480.2 156.2 L479.4 161.6"/>
<path d="M479.1 147.4 L501.1 158.2 M501.1 158.2 L499.4 169"/>
<path d="M497.4 145.8 L517.4 159.8 M517.4 159.8 L514 170.3"/>
<path d="M515.1 145.1 L534.2 160.5 M534.2 160.5 L530.1 170.7"/>
<path d="M530.8 147.6 L553 158 M553 158 L551.5 168.9"/>
<path d="M548.1 147.6 L570.3 158 M570.3 158 L568.8 168.9"/>
<path d="M565 148.6 L588 157 M588 157 L587.4 168 M585.1 155.9 L584.8 161.4"/>
<path d="M582.4 148.2 L605.1 157.4 M605.1 157.4 L604.1 168.3 M602.2 156.2 L601.7 161.7"/>
<path d="M600.7 146.1 L621.3 159.5 M621.3 159.5 L618.2 170 M618.7 157.8 L617.2 163.1"/>
<path d="M618.9 144.9 L637.7 160.7 M637.7 160.7 L633.4 170.8 M635.3 158.7 L633.1 163.7"/>
<path d="M636.3 144.8 L654.8 160.8 M654.8 160.8 L650.3 170.9 M652.4 158.8 L650.2 163.8"/>
<path d="M654 144.3 L671.6 161.3 M671.6 161.3 L666.6 171.1 M669.4 159.2 L666.9 164.1"/>
<path d="M672.2 143.4 L687.9 162.2 M687.9 162.2 L682 171.4"/>
<path d="M692.2 141.7 L702.5 163.9 M702.5 163.9 L694.3 171.3"/>
<path d="M709.2 141.8 L720 163.8 M720 163.8 L711.9 171.3"/>
<path d="M728.3 141.1 L735.5 164.5 M735.5 164.5 L726.3 170.7"/>
<path d="M749.8 140.6 L748.5 165 M748.5 165 L737.8 167.7"/>
<path d="M765.6 140.6 L767.3 165 M767 160.8 L761.8 162.8"/>
<path d="M777.2 142.4 L790.2 163.2 M787.9 159.6 L784.3 163.8"/>
<path d="M791.2 145.4 L810.7 160.2 M810.7 160.2 L807 170.5"/>
<path d="M806.9 148 L829.5 157.6 M829.5 157.6 L828.3 168.5"/>
<path d="M824 148.6 L847 157 M847 157 L846.4 168"/>
<path d="M840.9 149.8 L864.6 155.8 M864.6 155.8 L865.2 166.7"/>
<path d="M858.1 150 L882 155.6 M882 155.6 L882.7 166.5"/>
<path d="M875 152.4 L899.5 153.2 M899.5 153.2 L902.4 163.9"/>
<path d="M892.3 152.4 L916.8 153.2 M916.8 153.2 L919.6 163.9"/>
<path d="M909.6 152.8 L934.1 152.8 M934.1 152.8 L937.3 163.3"/>
<path d="M926.8 152.8 L951.3 152.8 M951.3 152.8 L954.6 163.3"/>
<path d="M944.8 148.6 L967.9 157 M967.9 157 L967.3 168"/>
<path d="M961.5 151.1 L985.8 154.5 M985.8 154.5 L987.5 165.4"/>
<path d="M978.6 152.8 L1003.1 152.8 M1003.1 152.8 L1006.4 163.3"/>
<path d="M997 157.8 L1019.4 147.8 M1015.5 149.5 L1019.1 153.7"/>
<path d="M1014.6 158.6 L1036.2 147 M1032.5 149 L1036.4 152.9"/>
<path d="M1031.2 157 L1054.2 148.6 M1050.3 150 L1053.6 154.4"/>
<path d="M1047.7 153.4 L1072.2 152.2 M1068 152.4 L1069.9 157.5"/>
<path d="M1065.2 155.1 L1089.3 150.5 M1085.1 151.3 L1087.7 156.1"/>
<path d="M1084.7 160.2 L1104.3 145.4 M1100.9 148 L1105.4 151.2"/>
</g>
<path d="M151.3 101.3 A12.6 12.6 0 1 0 151.3 126.1 A14.9 14.9 0 0 1 151.3 101.3Z" fill="#fafafa" stroke="#000" stroke-width="2" stroke-linejoin="round"/>
<line x1="174.3" y1="106.1" x2="172.2" y2="101.8" stroke="#efbb2a" stroke-width="2.9" stroke-linecap="round"/><line x1="174.3" y1="106.1" x2="172.2" y2="101.8" stroke="#f6e81e" stroke-width="1.8" stroke-linecap="round"/><line x1="180.9" y1="105.7" x2="182.5" y2="101.1" stroke="#efbb2a" stroke-width="2.9" stroke-linecap="round"/><line x1="180.9" y1="105.7" x2="182.5" y2="101.1" stroke="#f6e81e" stroke-width="1.8" stroke-linecap="round"/><line x1="185.8" y1="110" x2="190.1" y2="107.9" stroke="#efbb2a" stroke-width="2.9" stroke-linecap="round"/><line x1="185.8" y1="110" x2="190.1" y2="107.9" stroke="#f6e81e" stroke-width="1.8" stroke-linecap="round"/><line x1="186.2" y1="116.6" x2="190.8" y2="118.2" stroke="#efbb2a" stroke-width="2.9" stroke-linecap="round"/><line x1="186.2" y1="116.6" x2="190.8" y2="118.2" stroke="#f6e81e" stroke-width="1.8" stroke-linecap="round"/><line x1="181.9" y1="121.5" x2="184" y2="125.8" stroke="#efbb2a" stroke-width="2.9" stroke-linecap="round"/><line x1="181.9" y1="121.5" x2="184" y2="125.8" stroke="#f6e81e" stroke-width="1.8" stroke-linecap="round"/><line x1="175.3" y1="121.9" x2="173.7" y2="126.5" stroke="#efbb2a" stroke-width="2.9" stroke-linecap="round"/><line x1="175.3" y1="121.9" x2="173.7" y2="126.5" stroke="#f6e81e" stroke-width="1.8" stroke-linecap="round"/><line x1="170.4" y1="117.6" x2="166.1" y2="119.7" stroke="#efbb2a" stroke-width="2.9" stroke-linecap="round"/><line x1="170.4" y1="117.6" x2="166.1" y2="119.7" stroke="#f6e81e" stroke-width="1.8" stroke-linecap="round"/><line x1="170" y1="111" x2="165.4" y2="109.4" stroke="#efbb2a" stroke-width="2.9" stroke-linecap="round"/><line x1="170" y1="111" x2="165.4" y2="109.4" stroke="#f6e81e" stroke-width="1.8" stroke-linecap="round"/><circle cx="178.1" cy="113.8" r="6.7" fill="#f4e61a" stroke="#f0a830" stroke-width="0.9"/>
<line x1="208.9" y1="106.1" x2="206.8" y2="101.8" stroke="#efbb2a" stroke-width="2.9" stroke-linecap="round"/><line x1="208.9" y1="106.1" x2="206.8" y2="101.8" stroke="#f6e81e" stroke-width="1.8" stroke-linecap="round"/><line x1="215.4" y1="105.7" x2="217" y2="101.1" stroke="#efbb2a" stroke-width="2.9" stroke-linecap="round"/><line x1="215.4" y1="105.7" x2="217" y2="101.1" stroke="#f6e81e" stroke-width="1.8" stroke-linecap="round"/><line x1="220.4" y1="110" x2="224.7" y2="107.9" stroke="#efbb2a" stroke-width="2.9" stroke-linecap="round"/><line x1="220.4" y1="110" x2="224.7" y2="107.9" stroke="#f6e81e" stroke-width="1.8" stroke-linecap="round"/><line x1="220.8" y1="116.6" x2="225.3" y2="118.2" stroke="#efbb2a" stroke-width="2.9" stroke-linecap="round"/><line x1="220.8" y1="116.6" x2="225.3" y2="118.2" stroke="#f6e81e" stroke-width="1.8" stroke-linecap="round"/><line x1="216.4" y1="121.5" x2="218.5" y2="125.8" stroke="#efbb2a" stroke-width="2.9" stroke-linecap="round"/><line x1="216.4" y1="121.5" x2="218.5" y2="125.8" stroke="#f6e81e" stroke-width="1.8" stroke-linecap="round"/><line x1="209.8" y1="121.9" x2="208.3" y2="126.5" stroke="#efbb2a" stroke-width="2.9" stroke-linecap="round"/><line x1="209.8" y1="121.9" x2="208.3" y2="126.5" stroke="#f6e81e" stroke-width="1.8" stroke-linecap="round"/><line x1="204.9" y1="117.6" x2="200.6" y2="119.7" stroke="#efbb2a" stroke-width="2.9" stroke-linecap="round"/><line x1="204.9" y1="117.6" x2="200.6" y2="119.7" stroke="#f6e81e" stroke-width="1.8" stroke-linecap="round"/><line x1="204.5" y1="111" x2="200" y2="109.4" stroke="#efbb2a" stroke-width="2.9" stroke-linecap="round"/><line x1="204.5" y1="111" x2="200" y2="109.4" stroke="#f6e81e" stroke-width="1.8" stroke-linecap="round"/><circle cx="212.6" cy="113.8" r="6.7" fill="#f4e61a" stroke="#f0a830" stroke-width="0.9"/>
<path d="M254.9 101.3 A12.6 12.6 0 1 0 254.9 126.1 A14.9 14.9 0 0 1 254.9 101.3Z" fill="#fafafa" stroke="#000" stroke-width="2" stroke-linejoin="round"/>
<path d="M286.4 101.3 A12.6 12.6 0 1 0 286.4 126.1 A14.9 14.9 0 0 1 286.4 101.3Z" fill="#fafafa" stroke="#000" stroke-width="2" stroke-linejoin="round"/><g><circle cx="282" cy="121.6" r="3.8" fill="#2e4d72" stroke="#2e4d72" stroke-width="3"/><circle cx="286.3" cy="118.6" r="4.4" fill="#2e4d72" stroke="#2e4d72" stroke-width="3"/><circle cx="290.6" cy="121.3" r="3.9" fill="#2e4d72" stroke="#2e4d72" stroke-width="3"/><rect x="282" y="120.1" width="8.6" height="5.6" fill="#2e4d72" stroke="#2e4d72" stroke-width="3"/><circle cx="282" cy="121.6" r="3.8" fill="#d2d2d2"/><circle cx="286.3" cy="118.6" r="4.4" fill="#d2d2d2"/><circle cx="290.6" cy="121.3" r="3.9" fill="#d2d2d2"/><rect x="282" y="120.1" width="8.6" height="5.6" fill="#d2d2d2"/></g>
<line x1="312.5" y1="106.1" x2="310.4" y2="101.8" stroke="#efbb2a" stroke-width="2.9" stroke-linecap="round"/><line x1="312.5" y1="106.1" x2="310.4" y2="101.8" stroke="#f6e81e" stroke-width="1.8" stroke-linecap="round"/><line x1="319" y1="105.7" x2="320.6" y2="101.1" stroke="#efbb2a" stroke-width="2.9" stroke-linecap="round"/><line x1="319" y1="105.7" x2="320.6" y2="101.1" stroke="#f6e81e" stroke-width="1.8" stroke-linecap="round"/><line x1="324" y1="110" x2="328.3" y2="107.9" stroke="#efbb2a" stroke-width="2.9" stroke-linecap="round"/><line x1="324" y1="110" x2="328.3" y2="107.9" stroke="#f6e81e" stroke-width="1.8" stroke-linecap="round"/><line x1="324.4" y1="116.6" x2="328.9" y2="118.2" stroke="#efbb2a" stroke-width="2.9" stroke-linecap="round"/><line x1="324.4" y1="116.6" x2="328.9" y2="118.2" stroke="#f6e81e" stroke-width="1.8" stroke-linecap="round"/><line x1="320" y1="121.5" x2="322.1" y2="125.8" stroke="#efbb2a" stroke-width="2.9" stroke-linecap="round"/><line x1="320" y1="121.5" x2="322.1" y2="125.8" stroke="#f6e81e" stroke-width="1.8" stroke-linecap="round"/><line x1="313.4" y1="121.9" x2="311.9" y2="126.5" stroke="#efbb2a" stroke-width="2.9" stroke-linecap="round"/><line x1="313.4" y1="121.9" x2="311.9" y2="126.5" stroke="#f6e81e" stroke-width="1.8" stroke-linecap="round"/><line x1="308.5" y1="117.6" x2="304.2" y2="119.7" stroke="#efbb2a" stroke-width="2.9" stroke-linecap="round"/><line x1="308.5" y1="117.6" x2="304.2" y2="119.7" stroke="#f6e81e" stroke-width="1.8" stroke-linecap="round"/><line x1="308.1" y1="111" x2="303.6" y2="109.4" stroke="#efbb2a" stroke-width="2.9" stroke-linecap="round"/><line x1="308.1" y1="111" x2="303.6" y2="109.4" stroke="#f6e81e" stroke-width="1.8" stroke-linecap="round"/><circle cx="316.2" cy="113.8" r="6.7" fill="#f4e61a" stroke="#f0a830" stroke-width="0.9"/>
<line x1="344.7" y1="105.1" x2="342.6" y2="100.8" stroke="#efbb2a" stroke-width="2.9" stroke-linecap="round"/><line x1="344.7" y1="105.1" x2="342.6" y2="100.8" stroke="#f6e81e" stroke-width="1.8" stroke-linecap="round"/><line x1="351.3" y1="104.7" x2="352.8" y2="100.1" stroke="#efbb2a" stroke-width="2.9" stroke-linecap="round"/><line x1="351.3" y1="104.7" x2="352.8" y2="100.1" stroke="#f6e81e" stroke-width="1.8" stroke-linecap="round"/><line x1="356.2" y1="109" x2="360.5" y2="106.9" stroke="#efbb2a" stroke-width="2.9" stroke-linecap="round"/><line x1="356.2" y1="109" x2="360.5" y2="106.9" stroke="#f6e81e" stroke-width="1.8" stroke-linecap="round"/><line x1="356.6" y1="115.6" x2="361.2" y2="117.2" stroke="#efbb2a" stroke-width="2.9" stroke-linecap="round"/><line x1="356.6" y1="115.6" x2="361.2" y2="117.2" stroke="#f6e81e" stroke-width="1.8" stroke-linecap="round"/><line x1="352.3" y1="120.5" x2="354.4" y2="124.8" stroke="#efbb2a" stroke-width="2.9" stroke-linecap="round"/><line x1="352.3" y1="120.5" x2="354.4" y2="124.8" stroke="#f6e81e" stroke-width="1.8" stroke-linecap="round"/><line x1="345.7" y1="120.9" x2="344.1" y2="125.5" stroke="#efbb2a" stroke-width="2.9" stroke-linecap="round"/><line x1="345.7" y1="120.9" x2="344.1" y2="125.5" stroke="#f6e81e" stroke-width="1.8" stroke-linecap="round"/><line x1="340.8" y1="116.6" x2="336.4" y2="118.7" stroke="#efbb2a" stroke-width="2.9" stroke-linecap="round"/><line x1="340.8" y1="116.6" x2="336.4" y2="118.7" stroke="#f6e81e" stroke-width="1.8" stroke-linecap="round"/><line x1="340.4" y1="110" x2="335.8" y2="108.4" stroke="#efbb2a" stroke-width="2.9" stroke-linecap="round"/><line x1="340.4" y1="110" x2="335.8" y2="108.4" stroke="#f6e81e" stroke-width="1.8" stroke-linecap="round"/><circle cx="348.5" cy="112.8" r="6.7" fill="#f4e61a" stroke="#f0a830" stroke-width="0.9"/><g><circle cx="353.8" cy="121.2" r="3.7" fill="#2f63b8" stroke="#2f63b8" stroke-width="3"/><circle cx="358" cy="118.3" r="4.3" fill="#2f63b8" stroke="#2f63b8" stroke-width="3"/><circle cx="362.2" cy="120.9" r="3.9" fill="#2f63b8" stroke="#2f63b8" stroke-width="3"/><rect x="353.8" y="119.8" width="8.4" height="5.4" fill="#2f63b8" stroke="#2f63b8" stroke-width="3"/><circle cx="353.8" cy="121.2" r="3.7" fill="#ffffff"/><circle cx="358" cy="118.3" r="4.3" fill="#ffffff"/><circle cx="362.2" cy="120.9" r="3.9" fill="#ffffff"/><rect x="353.8" y="119.8" width="8.4" height="5.4" fill="#ffffff"/></g>
<path d="M390 101.3 A12.6 12.6 0 1 0 390 126.1 A14.9 14.9 0 0 1 390 101.3Z" fill="#fafafa" stroke="#000" stroke-width="2" stroke-linejoin="round"/><g><circle cx="385.6" cy="121.6" r="3.8" fill="#2e4d72" stroke="#2e4d72" stroke-width="3"/><circle cx="389.9" cy="118.6" r="4.4" fill="#2e4d72" stroke="#2e4d72" stroke-width="3"/><circle cx="394.2" cy="121.3" r="3.9" fill="#2e4d72" stroke="#2e4d72" stroke-width="3"/><rect x="385.6" y="120.1" width="8.6" height="5.6" fill="#2e4d72" stroke="#2e4d72" stroke-width="3"/><circle cx="385.6" cy="121.6" r="3.8" fill="#d2d2d2"/><circle cx="389.9" cy="118.6" r="4.4" fill="#d2d2d2"/><circle cx="394.2" cy="121.3" r="3.9" fill="#d2d2d2"/><rect x="385.6" y="120.1" width="8.6" height="5.6" fill="#d2d2d2"/></g>
<path d="M420.2 101.5 A11.9 11.9 0 1 0 420.2 125.1 A14.2 14.2 0 0 1 420.2 101.5Z" fill="#fafafa" stroke="#000" stroke-width="2" stroke-linejoin="round"/><g><circle cx="417.6" cy="120.9" r="5.4" fill="#2e4d72" stroke="#2e4d72" stroke-width="3.2"/><circle cx="423.7" cy="116.7" r="6.3" fill="#2e4d72" stroke="#2e4d72" stroke-width="3.2"/><circle cx="429.8" cy="120.5" r="5.6" fill="#2e4d72" stroke="#2e4d72" stroke-width="3.2"/><rect x="417.6" y="118.8" width="12.2" height="7.9" fill="#2e4d72" stroke="#2e4d72" stroke-width="3.2"/><circle cx="417.6" cy="120.9" r="5.4" fill="#d2d2d2"/><circle cx="423.7" cy="116.7" r="6.3" fill="#d2d2d2"/><circle cx="429.8" cy="120.5" r="5.6" fill="#d2d2d2"/><rect x="417.6" y="118.8" width="12.2" height="7.9" fill="#d2d2d2"/></g>
<line x1="454.8" y1="104.6" x2="453.2" y2="101.2" stroke="#efbb2a" stroke-width="2.9" stroke-linecap="round"/><line x1="454.8" y1="104.6" x2="453.2" y2="101.2" stroke="#f6e81e" stroke-width="1.8" stroke-linecap="round"/><line x1="461.4" y1="104.2" x2="462.6" y2="100.7" stroke="#efbb2a" stroke-width="2.9" stroke-linecap="round"/><line x1="461.4" y1="104.2" x2="462.6" y2="100.7" stroke="#f6e81e" stroke-width="1.8" stroke-linecap="round"/><line x1="466.3" y1="108.5" x2="469.6" y2="106.9" stroke="#efbb2a" stroke-width="2.9" stroke-linecap="round"/><line x1="466.3" y1="108.5" x2="469.6" y2="106.9" stroke="#f6e81e" stroke-width="1.8" stroke-linecap="round"/><line x1="466.7" y1="115.1" x2="470.2" y2="116.3" stroke="#efbb2a" stroke-width="2.9" stroke-linecap="round"/><line x1="466.7" y1="115.1" x2="470.2" y2="116.3" stroke="#f6e81e" stroke-width="1.8" stroke-linecap="round"/><line x1="462.4" y1="120" x2="464" y2="123.4" stroke="#efbb2a" stroke-width="2.9" stroke-linecap="round"/><line x1="462.4" y1="120" x2="464" y2="123.4" stroke="#f6e81e" stroke-width="1.8" stroke-linecap="round"/><line x1="455.8" y1="120.4" x2="454.6" y2="123.9" stroke="#efbb2a" stroke-width="2.9" stroke-linecap="round"/><line x1="455.8" y1="120.4" x2="454.6" y2="123.9" stroke="#f6e81e" stroke-width="1.8" stroke-linecap="round"/><line x1="450.9" y1="116.1" x2="447.5" y2="117.7" stroke="#efbb2a" stroke-width="2.9" stroke-linecap="round"/><line x1="450.9" y1="116.1" x2="447.5" y2="117.7" stroke="#f6e81e" stroke-width="1.8" stroke-linecap="round"/><line x1="450.5" y1="109.5" x2="447" y2="108.3" stroke="#efbb2a" stroke-width="2.9" stroke-linecap="round"/><line x1="450.5" y1="109.5" x2="447" y2="108.3" stroke="#f6e81e" stroke-width="1.8" stroke-linecap="round"/><circle cx="458.6" cy="112.3" r="6.2" fill="#f4e61a" stroke="#f0a830" stroke-width="0.9"/><g><circle cx="445" cy="123.2" r="4.8" fill="#2f63b8" stroke="#2f63b8" stroke-width="3.2"/><circle cx="450.4" cy="119.5" r="5.6" fill="#2f63b8" stroke="#2f63b8" stroke-width="3.2"/><circle cx="455.8" cy="122.9" r="4.9" fill="#2f63b8" stroke="#2f63b8" stroke-width="3.2"/><rect x="445" y="121.4" width="10.8" height="7" fill="#2f63b8" stroke="#2f63b8" stroke-width="3.2"/><circle cx="445" cy="123.2" r="4.8" fill="#d2d2d2"/><circle cx="450.4" cy="119.5" r="5.6" fill="#d2d2d2"/><circle cx="455.8" cy="122.9" r="4.9" fill="#d2d2d2"/><rect x="445" y="121.4" width="10.8" height="7" fill="#d2d2d2"/></g>
<line x1="489.4" y1="104.6" x2="487.7" y2="101.2" stroke="#efbb2a" stroke-width="2.9" stroke-linecap="round"/><line x1="489.4" y1="104.6" x2="487.7" y2="101.2" stroke="#f6e81e" stroke-width="1.8" stroke-linecap="round"/><line x1="495.9" y1="104.2" x2="497.1" y2="100.7" stroke="#efbb2a" stroke-width="2.9" stroke-linecap="round"/><line x1="495.9" y1="104.2" x2="497.1" y2="100.7" stroke="#f6e81e" stroke-width="1.8" stroke-linecap="round"/><line x1="500.9" y1="108.5" x2="504.2" y2="106.9" stroke="#efbb2a" stroke-width="2.9" stroke-linecap="round"/><line x1="500.9" y1="108.5" x2="504.2" y2="106.9" stroke="#f6e81e" stroke-width="1.8" stroke-linecap="round"/><line x1="501.3" y1="115.1" x2="504.8" y2="116.3" stroke="#efbb2a" stroke-width="2.9" stroke-linecap="round"/><line x1="501.3" y1="115.1" x2="504.8" y2="116.3" stroke="#f6e81e" stroke-width="1.8" stroke-linecap="round"/><line x1="496.9" y1="120" x2="498.5" y2="123.4" stroke="#efbb2a" stroke-width="2.9" stroke-linecap="round"/><line x1="496.9" y1="120" x2="498.5" y2="123.4" stroke="#f6e81e" stroke-width="1.8" stroke-linecap="round"/><line x1="490.3" y1="120.4" x2="489.1" y2="123.9" stroke="#efbb2a" stroke-width="2.9" stroke-linecap="round"/><line x1="490.3" y1="120.4" x2="489.1" y2="123.9" stroke="#f6e81e" stroke-width="1.8" stroke-linecap="round"/><line x1="485.4" y1="116.1" x2="482.1" y2="117.7" stroke="#efbb2a" stroke-width="2.9" stroke-linecap="round"/><line x1="485.4" y1="116.1" x2="482.1" y2="117.7" stroke="#f6e81e" stroke-width="1.8" stroke-linecap="round"/><line x1="485" y1="109.5" x2="481.5" y2="108.3" stroke="#efbb2a" stroke-width="2.9" stroke-linecap="round"/><line x1="485" y1="109.5" x2="481.5" y2="108.3" stroke="#f6e81e" stroke-width="1.8" stroke-linecap="round"/><circle cx="493.1" cy="112.3" r="6.2" fill="#f4e61a" stroke="#f0a830" stroke-width="0.9"/><g><circle cx="479.6" cy="123.2" r="4.8" fill="#2f63b8" stroke="#2f63b8" stroke-width="3.2"/><circle cx="484.9" cy="119.5" r="5.6" fill="#2f63b8" stroke="#2f63b8" stroke-width="3.2"/><circle cx="490.3" cy="122.9" r="4.9" fill="#2f63b8" stroke="#2f63b8" stroke-width="3.2"/><rect x="479.6" y="121.4" width="10.8" height="7" fill="#2f63b8" stroke="#2f63b8" stroke-width="3.2"/><circle cx="479.6" cy="123.2" r="4.8" fill="#d2d2d2"/><circle cx="484.9" cy="119.5" r="5.6" fill="#d2d2d2"/><circle cx="490.3" cy="122.9" r="4.9" fill="#d2d2d2"/><rect x="479.6" y="121.4" width="10.8" height="7" fill="#d2d2d2"/></g>
<g><circle cx="514.2" cy="118.3" r="6.3" fill="#2e4d72" stroke="#2e4d72" stroke-width="3.2"/><circle cx="523.7" cy="112" r="8.1" fill="#2e4d72" stroke="#2e4d72" stroke-width="3.2"/><circle cx="534.2" cy="116.8" r="7" fill="#2e4d72" stroke="#2e4d72" stroke-width="3.2"/><rect x="514.2" y="118.3" width="20" height="6.3" fill="#2e4d72" stroke="#2e4d72" stroke-width="3.2"/><circle cx="514.2" cy="118.3" r="6.3" fill="#d2d2d2"/><circle cx="523.7" cy="112" r="8.1" fill="#d2d2d2"/><circle cx="534.2" cy="116.8" r="7" fill="#d2d2d2"/><rect x="514.2" y="118.3" width="20" height="6.3" fill="#d2d2d2"/></g><g><circle cx="519.7" cy="120.9" r="4.6" fill="#2e4d72" stroke="#2e4d72" stroke-width="3.2"/><circle cx="527" cy="116" r="6.1" fill="#2e4d72" stroke="#2e4d72" stroke-width="3.2"/><circle cx="533.7" cy="120.9" r="4.7" fill="#2e4d72" stroke="#2e4d72" stroke-width="3.2"/><rect x="519.7" y="120.9" width="14" height="4.5" fill="#2e4d72" stroke="#2e4d72" stroke-width="3.2"/><circle cx="519.7" cy="120.9" r="4.6" fill="#ffffff"/><circle cx="527" cy="116" r="6.1" fill="#ffffff"/><circle cx="533.7" cy="120.9" r="4.7" fill="#ffffff"/><rect x="519.7" y="120.9" width="14" height="4.5" fill="#ffffff"/></g><path d="M529.3 120.9 a3 3 0 0 1 5.2 1.2" fill="none" stroke="#2e4d72" stroke-width="1.5"/><line x1="523.1" y1="128.5" x2="521.7" y2="134.3" stroke="#2e4d72" stroke-width="2.4"/><line x1="527" y1="128.5" x2="525.6" y2="134.3" stroke="#2e4d72" stroke-width="2.4"/>
<g><circle cx="548.7" cy="118.3" r="6.3" fill="#2e4d72" stroke="#2e4d72" stroke-width="3.2"/><circle cx="558.2" cy="112" r="8.1" fill="#2e4d72" stroke="#2e4d72" stroke-width="3.2"/><circle cx="568.7" cy="116.8" r="7" fill="#2e4d72" stroke="#2e4d72" stroke-width="3.2"/><rect x="548.7" y="118.3" width="20" height="6.3" fill="#2e4d72" stroke="#2e4d72" stroke-width="3.2"/><circle cx="548.7" cy="118.3" r="6.3" fill="#d2d2d2"/><circle cx="558.2" cy="112" r="8.1" fill="#d2d2d2"/><circle cx="568.7" cy="116.8" r="7" fill="#d2d2d2"/><rect x="548.7" y="118.3" width="20" height="6.3" fill="#d2d2d2"/></g><g><circle cx="554.2" cy="120.9" r="4.6" fill="#2e4d72" stroke="#2e4d72" stroke-width="3.2"/><circle cx="561.5" cy="116" r="6.1" fill="#2e4d72" stroke="#2e4d72" stroke-width="3.2"/><circle cx="568.2" cy="120.9" r="4.7" fill="#2e4d72" stroke="#2e4d72" stroke-width="3.2"/><rect x="554.2" y="120.9" width="14" height="4.5" fill="#2e4d72" stroke="#2e4d72" stroke-width="3.2"/><circle cx="554.2" cy="120.9" r="4.6" fill="#ffffff"/><circle cx="561.5" cy="116" r="6.1" fill="#ffffff"/><circle cx="568.2" cy="120.9" r="4.7" fill="#ffffff"/><rect x="554.2" y="120.9" width="14" height="4.5" fill="#ffffff"/></g><path d="M563.8 120.9 a3 3 0 0 1 5.2 1.2" fill="none" stroke="#2e4d72" stroke-width="1.5"/><line x1="557.6" y1="128.5" x2="556.2" y2="134.3" stroke="#2e4d72" stroke-width="2.4"/><line x1="561.5" y1="128.5" x2="560.1" y2="134.3" stroke="#2e4d72" stroke-width="2.4"/>
<line x1="593" y1="104.6" x2="591.3" y2="101.2" stroke="#efbb2a" stroke-width="2.9" stroke-linecap="round"/><line x1="593" y1="104.6" x2="591.3" y2="101.2" stroke="#f6e81e" stroke-width="1.8" stroke-linecap="round"/><line x1="599.5" y1="104.2" x2="600.7" y2="100.7" stroke="#efbb2a" stroke-width="2.9" stroke-linecap="round"/><line x1="599.5" y1="104.2" x2="600.7" y2="100.7" stroke="#f6e81e" stroke-width="1.8" stroke-linecap="round"/><line x1="604.5" y1="108.5" x2="607.8" y2="106.9" stroke="#efbb2a" stroke-width="2.9" stroke-linecap="round"/><line x1="604.5" y1="108.5" x2="607.8" y2="106.9" stroke="#f6e81e" stroke-width="1.8" stroke-linecap="round"/><line x1="604.9" y1="115.1" x2="608.4" y2="116.3" stroke="#efbb2a" stroke-width="2.9" stroke-linecap="round"/><line x1="604.9" y1="115.1" x2="608.4" y2="116.3" stroke="#f6e81e" stroke-width="1.8" stroke-linecap="round"/><line x1="600.5" y1="120" x2="602.1" y2="123.4" stroke="#efbb2a" stroke-width="2.9" stroke-linecap="round"/><line x1="600.5" y1="120" x2="602.1" y2="123.4" stroke="#f6e81e" stroke-width="1.8" stroke-linecap="round"/><line x1="593.9" y1="120.4" x2="592.7" y2="123.9" stroke="#efbb2a" stroke-width="2.9" stroke-linecap="round"/><line x1="593.9" y1="120.4" x2="592.7" y2="123.9" stroke="#f6e81e" stroke-width="1.8" stroke-linecap="round"/><line x1="589" y1="116.1" x2="585.7" y2="117.7" stroke="#efbb2a" stroke-width="2.9" stroke-linecap="round"/><line x1="589" y1="116.1" x2="585.7" y2="117.7" stroke="#f6e81e" stroke-width="1.8" stroke-linecap="round"/><line x1="588.6" y1="109.5" x2="585.1" y2="108.3" stroke="#efbb2a" stroke-width="2.9" stroke-linecap="round"/><line x1="588.6" y1="109.5" x2="585.1" y2="108.3" stroke="#f6e81e" stroke-width="1.8" stroke-linecap="round"/><circle cx="596.7" cy="112.3" r="6.2" fill="#f4e61a" stroke="#f0a830" stroke-width="0.9"/><g><circle cx="583.2" cy="123.2" r="4.8" fill="#2f63b8" stroke="#2f63b8" stroke-width="3.2"/><circle cx="588.5" cy="119.5" r="5.6" fill="#2f63b8" stroke="#2f63b8" stroke-width="3.2"/><circle cx="593.9" cy="122.9" r="4.9" fill="#2f63b8" stroke="#2f63b8" stroke-width="3.2"/><rect x="583.2" y="121.4" width="10.8" height="7" fill="#2f63b8" stroke="#2f63b8" stroke-width="3.2"/><circle cx="583.2" cy="123.2" r="4.8" fill="#d2d2d2"/><circle cx="588.5" cy="119.5" r="5.6" fill="#d2d2d2"/><circle cx="593.9" cy="122.9" r="4.9" fill="#d2d2d2"/><rect x="583.2" y="121.4" width="10.8" height="7" fill="#d2d2d2"/></g><line x1="588.7" y1="128.5" x2="587.3" y2="134.3" stroke="#2f63b8" stroke-width="2.4"/><line x1="592.6" y1="128.5" x2="591.2" y2="134.3" stroke="#2f63b8" stroke-width="2.4"/>
<line x1="627.5" y1="104.6" x2="625.9" y2="101.2" stroke="#efbb2a" stroke-width="2.9" stroke-linecap="round"/><line x1="627.5" y1="104.6" x2="625.9" y2="101.2" stroke="#f6e81e" stroke-width="1.8" stroke-linecap="round"/><line x1="634.1" y1="104.2" x2="635.3" y2="100.7" stroke="#efbb2a" stroke-width="2.9" stroke-linecap="round"/><line x1="634.1" y1="104.2" x2="635.3" y2="100.7" stroke="#f6e81e" stroke-width="1.8" stroke-linecap="round"/><line x1="639" y1="108.5" x2="642.3" y2="106.9" stroke="#efbb2a" stroke-width="2.9" stroke-linecap="round"/><line x1="639" y1="108.5" x2="642.3" y2="106.9" stroke="#f6e81e" stroke-width="1.8" stroke-linecap="round"/><line x1="639.4" y1="115.1" x2="642.9" y2="116.3" stroke="#efbb2a" stroke-width="2.9" stroke-linecap="round"/><line x1="639.4" y1="115.1" x2="642.9" y2="116.3" stroke="#f6e81e" stroke-width="1.8" stroke-linecap="round"/><line x1="635" y1="120" x2="636.7" y2="123.4" stroke="#efbb2a" stroke-width="2.9" stroke-linecap="round"/><line x1="635" y1="120" x2="636.7" y2="123.4" stroke="#f6e81e" stroke-width="1.8" stroke-linecap="round"/><line x1="628.5" y1="120.4" x2="627.3" y2="123.9" stroke="#efbb2a" stroke-width="2.9" stroke-linecap="round"/><line x1="628.5" y1="120.4" x2="627.3" y2="123.9" stroke="#f6e81e" stroke-width="1.8" stroke-linecap="round"/><line x1="623.5" y1="116.1" x2="620.2" y2="117.7" stroke="#efbb2a" stroke-width="2.9" stroke-linecap="round"/><line x1="623.5" y1="116.1" x2="620.2" y2="117.7" stroke="#f6e81e" stroke-width="1.8" stroke-linecap="round"/><line x1="623.1" y1="109.5" x2="619.6" y2="108.3" stroke="#efbb2a" stroke-width="2.9" stroke-linecap="round"/><line x1="623.1" y1="109.5" x2="619.6" y2="108.3" stroke="#f6e81e" stroke-width="1.8" stroke-linecap="round"/><circle cx="631.3" cy="112.3" r="6.2" fill="#f4e61a" stroke="#f0a830" stroke-width="0.9"/><g><circle cx="617.7" cy="123.2" r="4.8" fill="#2f63b8" stroke="#2f63b8" stroke-width="3.2"/><circle cx="623.1" cy="119.5" r="5.6" fill="#2f63b8" stroke="#2f63b8" stroke-width="3.2"/><circle cx="628.4" cy="122.9" r="4.9" fill="#2f63b8" stroke="#2f63b8" stroke-width="3.2"/><rect x="617.7" y="121.4" width="10.8" height="7" fill="#2f63b8" stroke="#2f63b8" stroke-width="3.2"/><circle cx="617.7" cy="123.2" r="4.8" fill="#d2d2d2"/><circle cx="623.1" cy="119.5" r="5.6" fill="#d2d2d2"/><circle cx="628.4" cy="122.9" r="4.9" fill="#d2d2d2"/><rect x="617.7" y="121.4" width="10.8" height="7" fill="#d2d2d2"/></g><line x1="619.3" y1="128.5" x2="617.9" y2="134.3" stroke="#2f63b8" stroke-width="2.4"/><line x1="623.2" y1="128.5" x2="621.8" y2="134.3" stroke="#2f63b8" stroke-width="2.4"/><line x1="627.1" y1="128.5" x2="625.7" y2="134.3" stroke="#2f63b8" stroke-width="2.4"/><line x1="631" y1="128.5" x2="629.6" y2="134.3" stroke="#2f63b8" stroke-width="2.4"/>
<path d="M664.4 100.7 A12.8 12.8 0 1 0 664.4 125.9 A15.2 15.2 0 0 1 664.4 100.7Z" fill="#fafafa" stroke="#000" stroke-width="2" stroke-linejoin="round"/><g><circle cx="661.3" cy="119.6" r="4.3" fill="#2e4d72" stroke="#2e4d72" stroke-width="3"/><circle cx="666.2" cy="116.2" r="5" fill="#2e4d72" stroke="#2e4d72" stroke-width="3"/><circle cx="671" cy="119.3" r="4.5" fill="#2e4d72" stroke="#2e4d72" stroke-width="3"/><rect x="661.3" y="117.9" width="9.8" height="6.3" fill="#2e4d72" stroke="#2e4d72" stroke-width="3"/><circle cx="661.3" cy="119.6" r="4.3" fill="#d2d2d2"/><circle cx="666.2" cy="116.2" r="5" fill="#d2d2d2"/><circle cx="671" cy="119.3" r="4.5" fill="#d2d2d2"/><rect x="661.3" y="117.9" width="9.8" height="6.3" fill="#d2d2d2"/></g><polygon points="668.8,118.3 664.6,125.5 667.9,125.5 662.5,132.3 664.1,126.9 661.1,126.9 665.5,118.3" fill="#b440b8" stroke="#b440b8" stroke-width="0.6" stroke-linejoin="round"/>
<g><circle cx="686.8" cy="118.3" r="6.3" fill="#2e4d72" stroke="#2e4d72" stroke-width="3.2"/><circle cx="696.3" cy="112" r="8.1" fill="#2e4d72" stroke="#2e4d72" stroke-width="3.2"/><circle cx="706.8" cy="116.8" r="7" fill="#2e4d72" stroke="#2e4d72" stroke-width="3.2"/><rect x="686.8" y="118.3" width="20" height="6.3" fill="#2e4d72" stroke="#2e4d72" stroke-width="3.2"/><circle cx="686.8" cy="118.3" r="6.3" fill="#d2d2d2"/><circle cx="696.3" cy="112" r="8.1" fill="#d2d2d2"/><circle cx="706.8" cy="116.8" r="7" fill="#d2d2d2"/><rect x="686.8" y="118.3" width="20" height="6.3" fill="#d2d2d2"/></g><g><circle cx="692.3" cy="120.9" r="4.6" fill="#2e4d72" stroke="#2e4d72" stroke-width="3.2"/><circle cx="699.6" cy="116" r="6.1" fill="#2e4d72" stroke="#2e4d72" stroke-width="3.2"/><circle cx="706.3" cy="120.9" r="4.7" fill="#2e4d72" stroke="#2e4d72" stroke-width="3.2"/><rect x="692.3" y="120.9" width="14" height="4.5" fill="#2e4d72" stroke="#2e4d72" stroke-width="3.2"/><circle cx="692.3" cy="120.9" r="4.6" fill="#ffffff"/><circle cx="699.6" cy="116" r="6.1" fill="#ffffff"/><circle cx="706.3" cy="120.9" r="4.7" fill="#ffffff"/><rect x="692.3" y="120.9" width="14" height="4.5" fill="#ffffff"/></g><path d="M701.9 120.9 a3 3 0 0 1 5.2 1.2" fill="none" stroke="#2e4d72" stroke-width="1.5"/><line x1="691.9" y1="128.5" x2="690.5" y2="134.3" stroke="#2e4d72" stroke-width="2.4"/><line x1="695.8" y1="128.5" x2="694.4" y2="134.3" stroke="#2e4d72" stroke-width="2.4"/><line x1="699.7" y1="128.5" x2="698.3" y2="134.3" stroke="#2e4d72" stroke-width="2.4"/><line x1="703.6" y1="128.5" x2="702.2" y2="134.3" stroke="#2e4d72" stroke-width="2.4"/>
<line x1="731.1" y1="104.6" x2="729.5" y2="101.2" stroke="#efbb2a" stroke-width="2.9" stroke-linecap="round"/><line x1="731.1" y1="104.6" x2="729.5" y2="101.2" stroke="#f6e81e" stroke-width="1.8" stroke-linecap="round"/><line x1="737.7" y1="104.2" x2="738.9" y2="100.7" stroke="#efbb2a" stroke-width="2.9" stroke-linecap="round"/><line x1="737.7" y1="104.2" x2="738.9" y2="100.7" stroke="#f6e81e" stroke-width="1.8" stroke-linecap="round"/><line x1="742.6" y1="108.5" x2="745.9" y2="106.9" stroke="#efbb2a" stroke-width="2.9" stroke-linecap="round"/><line x1="742.6" y1="108.5" x2="745.9" y2="106.9" stroke="#f6e81e" stroke-width="1.8" stroke-linecap="round"/><line x1="743" y1="115.1" x2="746.5" y2="116.3" stroke="#efbb2a" stroke-width="2.9" stroke-linecap="round"/><line x1="743" y1="115.1" x2="746.5" y2="116.3" stroke="#f6e81e" stroke-width="1.8" stroke-linecap="round"/><line x1="738.6" y1="120" x2="740.3" y2="123.4" stroke="#efbb2a" stroke-width="2.9" stroke-linecap="round"/><line x1="738.6" y1="120" x2="740.3" y2="123.4" stroke="#f6e81e" stroke-width="1.8" stroke-linecap="round"/><line x1="732.1" y1="120.4" x2="730.9" y2="123.9" stroke="#efbb2a" stroke-width="2.9" stroke-linecap="round"/><line x1="732.1" y1="120.4" x2="730.9" y2="123.9" stroke="#f6e81e" stroke-width="1.8" stroke-linecap="round"/><line x1="727.1" y1="116.1" x2="723.8" y2="117.7" stroke="#efbb2a" stroke-width="2.9" stroke-linecap="round"/><line x1="727.1" y1="116.1" x2="723.8" y2="117.7" stroke="#f6e81e" stroke-width="1.8" stroke-linecap="round"/><line x1="726.7" y1="109.5" x2="723.2" y2="108.3" stroke="#efbb2a" stroke-width="2.9" stroke-linecap="round"/><line x1="726.7" y1="109.5" x2="723.2" y2="108.3" stroke="#f6e81e" stroke-width="1.8" stroke-linecap="round"/><circle cx="734.9" cy="112.3" r="6.2" fill="#f4e61a" stroke="#f0a830" stroke-width="0.9"/><g><circle cx="721.3" cy="123.2" r="4.8" fill="#2f63b8" stroke="#2f63b8" stroke-width="3.2"/><circle cx="726.7" cy="119.5" r="5.6" fill="#2f63b8" stroke="#2f63b8" stroke-width="3.2"/><circle cx="732.1" cy="122.9" r="4.9" fill="#2f63b8" stroke="#2f63b8" stroke-width="3.2"/><rect x="721.3" y="121.4" width="10.8" height="7" fill="#2f63b8" stroke="#2f63b8" stroke-width="3.2"/><circle cx="721.3" cy="123.2" r="4.8" fill="#d2d2d2"/><circle cx="726.7" cy="119.5" r="5.6" fill="#d2d2d2"/><circle cx="732.1" cy="122.9" r="4.9" fill="#d2d2d2"/><rect x="721.3" y="121.4" width="10.8" height="7" fill="#d2d2d2"/></g>
<line x1="759.1" y1="105.1" x2="757" y2="100.8" stroke="#efbb2a" stroke-width="2.9" stroke-linecap="round"/><line x1="759.1" y1="105.1" x2="757" y2="100.8" stroke="#f6e81e" stroke-width="1.8" stroke-linecap="round"/><line x1="765.7" y1="104.7" x2="767.3" y2="100.1" stroke="#efbb2a" stroke-width="2.9" stroke-linecap="round"/><line x1="765.7" y1="104.7" x2="767.3" y2="100.1" stroke="#f6e81e" stroke-width="1.8" stroke-linecap="round"/><line x1="770.6" y1="109" x2="775" y2="106.9" stroke="#efbb2a" stroke-width="2.9" stroke-linecap="round"/><line x1="770.6" y1="109" x2="775" y2="106.9" stroke="#f6e81e" stroke-width="1.8" stroke-linecap="round"/><line x1="771" y1="115.6" x2="775.6" y2="117.2" stroke="#efbb2a" stroke-width="2.9" stroke-linecap="round"/><line x1="771" y1="115.6" x2="775.6" y2="117.2" stroke="#f6e81e" stroke-width="1.8" stroke-linecap="round"/><line x1="766.7" y1="120.5" x2="768.8" y2="124.8" stroke="#efbb2a" stroke-width="2.9" stroke-linecap="round"/><line x1="766.7" y1="120.5" x2="768.8" y2="124.8" stroke="#f6e81e" stroke-width="1.8" stroke-linecap="round"/><line x1="760.1" y1="120.9" x2="758.5" y2="125.5" stroke="#efbb2a" stroke-width="2.9" stroke-linecap="round"/><line x1="760.1" y1="120.9" x2="758.5" y2="125.5" stroke="#f6e81e" stroke-width="1.8" stroke-linecap="round"/><line x1="755.2" y1="116.6" x2="750.9" y2="118.7" stroke="#efbb2a" stroke-width="2.9" stroke-linecap="round"/><line x1="755.2" y1="116.6" x2="750.9" y2="118.7" stroke="#f6e81e" stroke-width="1.8" stroke-linecap="round"/><line x1="754.8" y1="110" x2="750.2" y2="108.4" stroke="#efbb2a" stroke-width="2.9" stroke-linecap="round"/><line x1="754.8" y1="110" x2="750.2" y2="108.4" stroke="#f6e81e" stroke-width="1.8" stroke-linecap="round"/><circle cx="762.9" cy="112.8" r="6.7" fill="#f4e61a" stroke="#f0a830" stroke-width="0.9"/><g><circle cx="768.2" cy="121.2" r="3.7" fill="#2f63b8" stroke="#2f63b8" stroke-width="3"/><circle cx="772.4" cy="118.3" r="4.3" fill="#2f63b8" stroke="#2f63b8" stroke-width="3"/><circle cx="776.6" cy="120.9" r="3.9" fill="#2f63b8" stroke="#2f63b8" stroke-width="3"/><rect x="768.2" y="119.8" width="8.4" height="5.4" fill="#2f63b8" stroke="#2f63b8" stroke-width="3"/><circle cx="768.2" cy="121.2" r="3.7" fill="#ffffff"/><circle cx="772.4" cy="118.3" r="4.3" fill="#ffffff"/><circle cx="776.6" cy="120.9" r="3.9" fill="#ffffff"/><rect x="768.2" y="119.8" width="8.4" height="5.4" fill="#ffffff"/></g>
<path d="M800.1 101.5 A11.9 11.9 0 1 0 800.1 125.1 A14.2 14.2 0 0 1 800.1 101.5Z" fill="#fafafa" stroke="#000" stroke-width="2" stroke-linejoin="round"/><g><circle cx="797.4" cy="120.9" r="5.4" fill="#2e4d72" stroke="#2e4d72" stroke-width="3.2"/><circle cx="803.5" cy="116.7" r="6.3" fill="#2e4d72" stroke="#2e4d72" stroke-width="3.2"/><circle cx="809.6" cy="120.5" r="5.6" fill="#2e4d72" stroke="#2e4d72" stroke-width="3.2"/><rect x="797.4" y="118.8" width="12.2" height="7.9" fill="#2e4d72" stroke="#2e4d72" stroke-width="3.2"/><circle cx="797.4" cy="120.9" r="5.4" fill="#d2d2d2"/><circle cx="803.5" cy="116.7" r="6.3" fill="#d2d2d2"/><circle cx="809.6" cy="120.5" r="5.6" fill="#d2d2d2"/><rect x="797.4" y="118.8" width="12.2" height="7.9" fill="#d2d2d2"/></g><line x1="798.5" y1="128.5" x2="797.1" y2="134.3" stroke="#2e4d72" stroke-width="2.4"/><line x1="802.4" y1="128.5" x2="801" y2="134.3" stroke="#2e4d72" stroke-width="2.4"/><line x1="806.3" y1="128.5" x2="804.9" y2="134.3" stroke="#2e4d72" stroke-width="2.4"/><line x1="810.2" y1="128.5" x2="808.8" y2="134.3" stroke="#2e4d72" stroke-width="2.4"/>
<g><circle cx="825" cy="118.3" r="6.3" fill="#2e4d72" stroke="#2e4d72" stroke-width="3.2"/><circle cx="834.5" cy="112" r="8.1" fill="#2e4d72" stroke="#2e4d72" stroke-width="3.2"/><circle cx="845" cy="116.8" r="7" fill="#2e4d72" stroke="#2e4d72" stroke-width="3.2"/><rect x="825" y="118.3" width="20" height="6.3" fill="#2e4d72" stroke="#2e4d72" stroke-width="3.2"/><circle cx="825" cy="118.3" r="6.3" fill="#d2d2d2"/><circle cx="834.5" cy="112" r="8.1" fill="#d2d2d2"/><circle cx="845" cy="116.8" r="7" fill="#d2d2d2"/><rect x="825" y="118.3" width="20" height="6.3" fill="#d2d2d2"/></g><g><circle cx="830.5" cy="120.9" r="4.6" fill="#2e4d72" stroke="#2e4d72" stroke-width="3.2"/><circle cx="837.8" cy="116" r="6.1" fill="#2e4d72" stroke="#2e4d72" stroke-width="3.2"/><circle cx="844.5" cy="120.9" r="4.7" fill="#2e4d72" stroke="#2e4d72" stroke-width="3.2"/><rect x="830.5" y="120.9" width="14" height="4.5" fill="#2e4d72" stroke="#2e4d72" stroke-width="3.2"/><circle cx="830.5" cy="120.9" r="4.6" fill="#ffffff"/><circle cx="837.8" cy="116" r="6.1" fill="#ffffff"/><circle cx="844.5" cy="120.9" r="4.7" fill="#ffffff"/><rect x="830.5" y="120.9" width="14" height="4.5" fill="#ffffff"/></g><path d="M840.1 120.9 a3 3 0 0 1 5.2 1.2" fill="none" stroke="#2e4d72" stroke-width="1.5"/><line x1="833.9" y1="128.5" x2="832.5" y2="134.3" stroke="#2e4d72" stroke-width="2.4"/><line x1="837.8" y1="128.5" x2="836.4" y2="134.3" stroke="#2e4d72" stroke-width="2.4"/>
<g><circle cx="859.5" cy="118.3" r="6.3" fill="#2f63b8" stroke="#2f63b8" stroke-width="3.2"/><circle cx="869" cy="112" r="8.1" fill="#2f63b8" stroke="#2f63b8" stroke-width="3.2"/><circle cx="879.5" cy="116.8" r="7" fill="#2f63b8" stroke="#2f63b8" stroke-width="3.2"/><rect x="859.5" y="118.3" width="20" height="6.3" fill="#2f63b8" stroke="#2f63b8" stroke-width="3.2"/><circle cx="859.5" cy="118.3" r="6.3" fill="#d2d2d2"/><circle cx="869" cy="112" r="8.1" fill="#d2d2d2"/><circle cx="879.5" cy="116.8" r="7" fill="#d2d2d2"/><rect x="859.5" y="118.3" width="20" height="6.3" fill="#d2d2d2"/></g><g><circle cx="865" cy="120.9" r="4.6" fill="#2f63b8" stroke="#2f63b8" stroke-width="3.2"/><circle cx="872.3" cy="116" r="6.1" fill="#2f63b8" stroke="#2f63b8" stroke-width="3.2"/><circle cx="879" cy="120.9" r="4.7" fill="#2f63b8" stroke="#2f63b8" stroke-width="3.2"/><rect x="865" y="120.9" width="14" height="4.5" fill="#2f63b8" stroke="#2f63b8" stroke-width="3.2"/><circle cx="865" cy="120.9" r="4.6" fill="#ffffff"/><circle cx="872.3" cy="116" r="6.1" fill="#ffffff"/><circle cx="879" cy="120.9" r="4.7" fill="#ffffff"/><rect x="865" y="120.9" width="14" height="4.5" fill="#ffffff"/></g><path d="M874.6 120.9 a3 3 0 0 1 5.2 1.2" fill="none" stroke="#2f63b8" stroke-width="1.5"/><line x1="868.5" y1="128.5" x2="867.1" y2="134.3" stroke="#2f63b8" stroke-width="2.4"/><line x1="872.4" y1="128.5" x2="871" y2="134.3" stroke="#2f63b8" stroke-width="2.4"/>
<g><circle cx="894.1" cy="118.3" r="6.3" fill="#2f63b8" stroke="#2f63b8" stroke-width="3.2"/><circle cx="903.6" cy="112" r="8.1" fill="#2f63b8" stroke="#2f63b8" stroke-width="3.2"/><circle cx="914.1" cy="116.8" r="7" fill="#2f63b8" stroke="#2f63b8" stroke-width="3.2"/><rect x="894.1" y="118.3" width="20" height="6.3" fill="#2f63b8" stroke="#2f63b8" stroke-width="3.2"/><circle cx="894.1" cy="118.3" r="6.3" fill="#d2d2d2"/><circle cx="903.6" cy="112" r="8.1" fill="#d2d2d2"/><circle cx="914.1" cy="116.8" r="7" fill="#d2d2d2"/><rect x="894.1" y="118.3" width="20" height="6.3" fill="#d2d2d2"/></g><g><circle cx="899.6" cy="120.9" r="4.6" fill="#2f63b8" stroke="#2f63b8" stroke-width="3.2"/><circle cx="906.9" cy="116" r="6.1" fill="#2f63b8" stroke="#2f63b8" stroke-width="3.2"/><circle cx="913.6" cy="120.9" r="4.7" fill="#2f63b8" stroke="#2f63b8" stroke-width="3.2"/><rect x="899.6" y="120.9" width="14" height="4.5" fill="#2f63b8" stroke="#2f63b8" stroke-width="3.2"/><circle cx="899.6" cy="120.9" r="4.6" fill="#ffffff"/><circle cx="906.9" cy="116" r="6.1" fill="#ffffff"/><circle cx="913.6" cy="120.9" r="4.7" fill="#ffffff"/><rect x="899.6" y="120.9" width="14" height="4.5" fill="#ffffff"/></g><path d="M909.2 120.9 a3 3 0 0 1 5.2 1.2" fill="none" stroke="#2f63b8" stroke-width="1.5"/><line x1="903" y1="128.5" x2="901.6" y2="134.3" stroke="#2f63b8" stroke-width="2.4"/><line x1="906.9" y1="128.5" x2="905.5" y2="134.3" stroke="#2f63b8" stroke-width="2.4"/>
<g><circle cx="928.6" cy="118.3" r="6.3" fill="#2e4d72" stroke="#2e4d72" stroke-width="3.2"/><circle cx="938.1" cy="112" r="8.1" fill="#2e4d72" stroke="#2e4d72" stroke-width="3.2"/><circle cx="948.6" cy="116.8" r="7" fill="#2e4d72" stroke="#2e4d72" stroke-width="3.2"/><rect x="928.6" y="118.3" width="20" height="6.3" fill="#2e4d72" stroke="#2e4d72" stroke-width="3.2"/><circle cx="928.6" cy="118.3" r="6.3" fill="#d2d2d2"/><circle cx="938.1" cy="112" r="8.1" fill="#d2d2d2"/><circle cx="948.6" cy="116.8" r="7" fill="#d2d2d2"/><rect x="928.6" y="118.3" width="20" height="6.3" fill="#d2d2d2"/></g><g><circle cx="934.1" cy="120.9" r="4.6" fill="#2e4d72" stroke="#2e4d72" stroke-width="3.2"/><circle cx="941.4" cy="116" r="6.1" fill="#2e4d72" stroke="#2e4d72" stroke-width="3.2"/><circle cx="948.1" cy="120.9" r="4.7" fill="#2e4d72" stroke="#2e4d72" stroke-width="3.2"/><rect x="934.1" y="120.9" width="14" height="4.5" fill="#2e4d72" stroke="#2e4d72" stroke-width="3.2"/><circle cx="934.1" cy="120.9" r="4.6" fill="#ffffff"/><circle cx="941.4" cy="116" r="6.1" fill="#ffffff"/><circle cx="948.1" cy="120.9" r="4.7" fill="#ffffff"/><rect x="934.1" y="120.9" width="14" height="4.5" fill="#ffffff"/></g><path d="M943.7 120.9 a3 3 0 0 1 5.2 1.2" fill="none" stroke="#2e4d72" stroke-width="1.5"/><line x1="933.6" y1="128.5" x2="932.2" y2="134.3" stroke="#2e4d72" stroke-width="2.4"/><line x1="937.5" y1="128.5" x2="936.1" y2="134.3" stroke="#2e4d72" stroke-width="2.4"/><line x1="941.4" y1="128.5" x2="940" y2="134.3" stroke="#2e4d72" stroke-width="2.4"/><line x1="945.3" y1="128.5" x2="943.9" y2="134.3" stroke="#2e4d72" stroke-width="2.4"/>
<g><circle cx="963.1" cy="118.3" r="6.3" fill="#2e4d72" stroke="#2e4d72" stroke-width="3.2"/><circle cx="972.6" cy="112" r="8.1" fill="#2e4d72" stroke="#2e4d72" stroke-width="3.2"/><circle cx="983.1" cy="116.8" r="7" fill="#2e4d72" stroke="#2e4d72" stroke-width="3.2"/><rect x="963.1" y="118.3" width="20" height="6.3" fill="#2e4d72" stroke="#2e4d72" stroke-width="3.2"/><circle cx="963.1" cy="118.3" r="6.3" fill="#d2d2d2"/><circle cx="972.6" cy="112" r="8.1" fill="#d2d2d2"/><circle cx="983.1" cy="116.8" r="7" fill="#d2d2d2"/><rect x="963.1" y="118.3" width="20" height="6.3" fill="#d2d2d2"/></g><g><circle cx="968.6" cy="120.9" r="4.6" fill="#2e4d72" stroke="#2e4d72" stroke-width="3.2"/><circle cx="975.9" cy="116" r="6.1" fill="#2e4d72" stroke="#2e4d72" stroke-width="3.2"/><circle cx="982.6" cy="120.9" r="4.7" fill="#2e4d72" stroke="#2e4d72" stroke-width="3.2"/><rect x="968.6" y="120.9" width="14" height="4.5" fill="#2e4d72" stroke="#2e4d72" stroke-width="3.2"/><circle cx="968.6" cy="120.9" r="4.6" fill="#ffffff"/><circle cx="975.9" cy="116" r="6.1" fill="#ffffff"/><circle cx="982.6" cy="120.9" r="4.7" fill="#ffffff"/><rect x="968.6" y="120.9" width="14" height="4.5" fill="#ffffff"/></g><path d="M978.2 120.9 a3 3 0 0 1 5.2 1.2" fill="none" stroke="#2e4d72" stroke-width="1.5"/><line x1="968.2" y1="128.5" x2="966.8" y2="134.3" stroke="#2e4d72" stroke-width="2.4"/><line x1="972.1" y1="128.5" x2="970.7" y2="134.3" stroke="#2e4d72" stroke-width="2.4"/><line x1="976" y1="128.5" x2="974.6" y2="134.3" stroke="#2e4d72" stroke-width="2.4"/><line x1="979.9" y1="128.5" x2="978.5" y2="134.3" stroke="#2e4d72" stroke-width="2.4"/>
<g><circle cx="997.7" cy="118.3" r="6.3" fill="#2f63b8" stroke="#2f63b8" stroke-width="3.2"/><circle cx="1007.2" cy="112" r="8.1" fill="#2f63b8" stroke="#2f63b8" stroke-width="3.2"/><circle cx="1017.7" cy="116.8" r="7" fill="#2f63b8" stroke="#2f63b8" stroke-width="3.2"/><rect x="997.7" y="118.3" width="20" height="6.3" fill="#2f63b8" stroke="#2f63b8" stroke-width="3.2"/><circle cx="997.7" cy="118.3" r="6.3" fill="#d2d2d2"/><circle cx="1007.2" cy="112" r="8.1" fill="#d2d2d2"/><circle cx="1017.7" cy="116.8" r="7" fill="#d2d2d2"/><rect x="997.7" y="118.3" width="20" height="6.3" fill="#d2d2d2"/></g><g><circle cx="1003.2" cy="120.9" r="4.6" fill="#2f63b8" stroke="#2f63b8" stroke-width="3.2"/><circle cx="1010.5" cy="116" r="6.1" fill="#2f63b8" stroke="#2f63b8" stroke-width="3.2"/><circle cx="1017.2" cy="120.9" r="4.7" fill="#2f63b8" stroke="#2f63b8" stroke-width="3.2"/><rect x="1003.2" y="120.9" width="14" height="4.5" fill="#2f63b8" stroke="#2f63b8" stroke-width="3.2"/><circle cx="1003.2" cy="120.9" r="4.6" fill="#ffffff"/><circle cx="1010.5" cy="116" r="6.1" fill="#ffffff"/><circle cx="1017.2" cy="120.9" r="4.7" fill="#ffffff"/><rect x="1003.2" y="120.9" width="14" height="4.5" fill="#ffffff"/></g><path d="M1012.8 120.9 a3 3 0 0 1 5.2 1.2" fill="none" stroke="#2f63b8" stroke-width="1.5"/>
<g><circle cx="1032.2" cy="118.3" r="6.3" fill="#2f63b8" stroke="#2f63b8" stroke-width="3.2"/><circle cx="1041.7" cy="112" r="8.1" fill="#2f63b8" stroke="#2f63b8" stroke-width="3.2"/><circle cx="1052.2" cy="116.8" r="7" fill="#2f63b8" stroke="#2f63b8" stroke-width="3.2"/><rect x="1032.2" y="118.3" width="20" height="6.3" fill="#2f63b8" stroke="#2f63b8" stroke-width="3.2"/><circle cx="1032.2" cy="118.3" r="6.3" fill="#d2d2d2"/><circle cx="1041.7" cy="112" r="8.1" fill="#d2d2d2"/><circle cx="1052.2" cy="116.8" r="7" fill="#d2d2d2"/><rect x="1032.2" y="118.3" width="20" height="6.3" fill="#d2d2d2"/></g><g><circle cx="1037.7" cy="120.9" r="4.6" fill="#2f63b8" stroke="#2f63b8" stroke-width="3.2"/><circle cx="1045" cy="116" r="6.1" fill="#2f63b8" stroke="#2f63b8" stroke-width="3.2"/><circle cx="1051.7" cy="120.9" r="4.7" fill="#2f63b8" stroke="#2f63b8" stroke-width="3.2"/><rect x="1037.7" y="120.9" width="14" height="4.5" fill="#2f63b8" stroke="#2f63b8" stroke-width="3.2"/><circle cx="1037.7" cy="120.9" r="4.6" fill="#ffffff"/><circle cx="1045" cy="116" r="6.1" fill="#ffffff"/><circle cx="1051.7" cy="120.9" r="4.7" fill="#ffffff"/><rect x="1037.7" y="120.9" width="14" height="4.5" fill="#ffffff"/></g><path d="M1047.3 120.9 a3 3 0 0 1 5.2 1.2" fill="none" stroke="#2f63b8" stroke-width="1.5"/><line x1="1041.1" y1="128.5" x2="1039.7" y2="134.3" stroke="#2f63b8" stroke-width="2.4"/><line x1="1045" y1="128.5" x2="1043.6" y2="134.3" stroke="#2f63b8" stroke-width="2.4"/>
<path d="M1076.4 101.5 A11.9 11.9 0 1 0 1076.4 125.1 A14.2 14.2 0 0 1 1076.4 101.5Z" fill="#fafafa" stroke="#000" stroke-width="2" stroke-linejoin="round"/><g><circle cx="1073.7" cy="120.9" r="5.4" fill="#2e4d72" stroke="#2e4d72" stroke-width="3.2"/><circle cx="1079.8" cy="116.7" r="6.3" fill="#2e4d72" stroke="#2e4d72" stroke-width="3.2"/><circle cx="1085.9" cy="120.5" r="5.6" fill="#2e4d72" stroke="#2e4d72" stroke-width="3.2"/><rect x="1073.7" y="118.8" width="12.2" height="7.9" fill="#2e4d72" stroke="#2e4d72" stroke-width="3.2"/><circle cx="1073.7" cy="120.9" r="5.4" fill="#d2d2d2"/><circle cx="1079.8" cy="116.7" r="6.3" fill="#d2d2d2"/><circle cx="1085.9" cy="120.5" r="5.6" fill="#d2d2d2"/><rect x="1073.7" y="118.8" width="12.2" height="7.9" fill="#d2d2d2"/></g>
<text x="196.6" y="69.2" text-anchor="middle" font-family="'DejaVu Sans', 'Liberation Sans', sans-serif" font-size="17.8" fill="#d40000">sobota</text>
<text x="196.6" y="90.2" text-anchor="middle" font-family="'DejaVu Sans', 'Liberation Sans', sans-serif" font-size="17.8" fill="#d40000">20.12</text>
<text x="334.7" y="69.2" text-anchor="middle" font-family="'DejaVu Sans', 'Liberation Sans', sans-serif" font-size="17.8" fill="#d40000">nedelja</text>
<text x="334.7" y="90.2" text-anchor="middle" font-family="'DejaVu Sans', 'Liberation Sans', sans-serif" font-size="17.8" fill="#d40000">21.12</text>
<text x="472.9" y="69.2" text-anchor="middle" font-family="'DejaVu Sans', 'Liberation Sans', sans-serif" font-size="17.8" fill="#000">ponedeljek</text>
<text x="472.9" y="90.2" text-anchor="middle" font-family="'DejaVu Sans', 'Liberation Sans', sans-serif" font-size="17.8" fill="#000">22.12</text>
<text x="611" y="69.2" text-anchor="middle" font-family="'DejaVu Sans', 'Liberation Sans', sans-serif" font-size="17.8" fill="#000">torek</text>
<text x="611" y="90.2" text-anchor="middle" font-family="'DejaVu Sans', 'Liberation Sans', sans-serif" font-size="17.8" fill="#000">23.12</text>
<text x="749.1" y="69.2" text-anchor="middle" font-family="'DejaVu Sans', 'Liberation Sans', sans-serif" font-size="17.8" fill="#000">sreda</text>
<text x="749.1" y="90.2" text-anchor="middle" font-family="'DejaVu Sans', 'Liberation Sans', sans-serif" font-size="17.8" fill="#000">24.12</text>
<text x="887.3" y="69.2" text-anchor="middle" font-family="'DejaVu Sans', 'Liberation Sans', sans-serif" font-size="17.8" fill="#000">četrtek</text>
<text x="887.3" y="90.2" text-anchor="middle" font-family="'DejaVu Sans', 'Liberation Sans', sans-serif" font-size="17.8" fill="#000">25.12</text>
<text x="1025.4" y="69.2" text-anchor="middle" font-family="'DejaVu Sans', 'Liberation Sans', sans-serif" font-size="17.8" fill="#000">petek</text>
<text x="1025.4" y="90.2" text-anchor="middle" font-family="'DejaVu Sans', 'Liberation Sans', sans-serif" font-size="17.8" fill="#000">26.12</text>
<text x="161.8" y="377" text-anchor="middle" font-family="'DejaVu Sans', 'Liberation Sans', sans-serif" font-size="17.6" fill="#000">06</text>
<text x="196.4" y="377" text-anchor="middle" font-family="'DejaVu Sans', 'Liberation Sans', sans-serif" font-size="17.6" fill="#000">12</text>
<text x="230.9" y="377" text-anchor="middle" font-family="'DejaVu Sans', 'Liberation Sans', sans-serif" font-size="17.6" fill="#000">18</text>
<text x="265.4" y="377" text-anchor="middle" font-family="'DejaVu Sans', 'Liberation Sans', sans-serif" font-size="17.6" fill="#000">ned</text>
<text x="300" y="377" text-anchor="middle" font-family="'DejaVu Sans', 'Liberation Sans', sans-serif" font-size="17.6" fill="#000">06</text>
<text x="334.5" y="377" text-anchor="middle" font-family="'DejaVu Sans', 'Liberation Sans', sans-serif" font-size="17.6" fill="#000">12</text>
<text x="369.1" y="377" text-anchor="middle" font-family="'DejaVu Sans', 'Liberation Sans', sans-serif" font-size="17.6" fill="#000">18</text>
<text x="403.6" y="377" text-anchor="middle" font-family="'DejaVu Sans', 'Liberation Sans', sans-serif" font-size="17.6" fill="#000">pon</text>
<text x="438.1" y="377" text-anchor="middle" font-family="'DejaVu Sans', 'Liberation Sans', sans-serif" font-size="17.6" fill="#000">06</text>
<text x="472.7" y="377" text-anchor="middle" font-family="'DejaVu Sans', 'Liberation Sans', sans-serif" font-size="17.6" fill="#000">12</text>
<text x="507.2" y="377" text-anchor="middle" font-family="'DejaVu Sans', 'Liberation Sans', sans-serif" font-size="17.6" fill="#000">18</text>
<text x="541.7" y="377" text-anchor="middle" font-family="'DejaVu Sans', 'Liberation Sans', sans-serif" font-size="17.6" fill="#000">tor</text>
<text x="576.3" y="377" text-anchor="middle" font-family="'DejaVu Sans', 'Liberation Sans', sans-serif" font-size="17.6" fill="#000">06</text>
<text x="610.8" y="377" text-anchor="middle" font-family="'DejaVu Sans', 'Liberation Sans', sans-serif" font-size="17.6" fill="#000">12</text>
<text x="645.3" y="377" text-anchor="middle" font-family="'DejaVu Sans', 'Liberation Sans', sans-serif" font-size="17.6" fill="#000">18</text>
<text x="679.9" y="377" text-anchor="middle" font-family="'DejaVu Sans', 'Liberation Sans', sans-serif" font-size="17.6" fill="#000">sre</text>
<text x="714.4" y="377" text-anchor="middle" font-family="'DejaVu Sans', 'Liberation Sans', sans-serif" font-size="17.6" fill="#000">06</text>
<text x="748.9" y="377" text-anchor="middle" font-family="'DejaVu Sans', 'Liberation Sans', sans-serif" font-size="17.6" fill="#000">12</text>
<text x="783.5" y="377" text-anchor="middle" font-family="'DejaVu Sans', 'Liberation Sans', sans-serif" font-size="17.6" fill="#000">18</text>
<text x="818" y="377" text-anchor="middle" font-family="'DejaVu Sans', 'Liberation Sans', sans-serif" font-size="17.6" fill="#000">čet</text>
<text x="852.5" y="377" text-anchor="middle" font-family="'DejaVu Sans', 'Liberation Sans', sans-serif" font-size="17.6" fill="#000">06</text>
<text x="887.1" y="377" text-anchor="middle" font-family="'DejaVu Sans', 'Liberation Sans', sans-serif" font-size="17.6" fill="#000">12</text>
<text x="921.6" y="377" text-anchor="middle" font-family="'DejaVu Sans', 'Liberation Sans', sans-serif" font-size="17.6" fill="#000">18</text>
<text x="956.2" y="377" text-anchor="middle" font-family="'DejaVu Sans', 'Liberation Sans', sans-serif" font-size="17.6" fill="#000">pet</text>
<text x="990.7" y="377" text-anchor="middle" font-family="'DejaVu Sans', 'Liberation Sans', sans-serif" font-size="17.6" fill="#000">06</text>
<text x="1025.2" y="377" text-anchor="middle" font-family="'DejaVu Sans', 'Liberation Sans', sans-serif" font-size="17.6" fill="#000">12</text>
<text x="1059.8" y="377" text-anchor="middle" font-family="'DejaVu Sans', 'Liberation Sans', sans-serif" font-size="17.6" fill="#000">18</text>
<text x="122.6" y="366.1" text-anchor="end" font-family="'DejaVu Sans', 'Liberation Sans', sans-serif" font-size="17.6" fill="#000">0</text>
<text x="122.6" y="328.7" text-anchor="end" font-family="'DejaVu Sans', 'Liberation Sans', sans-serif" font-size="17.6" fill="#000">1</text>
<text x="122.6" y="291.3" text-anchor="end" font-family="'DejaVu Sans', 'Liberation Sans', sans-serif" font-size="17.6" fill="#000">2</text>
<text x="122.6" y="253.9" text-anchor="end" font-family="'DejaVu Sans', 'Liberation Sans', sans-serif" font-size="17.6" fill="#000">3</text>
<text x="122.6" y="216.5" text-anchor="end" font-family="'DejaVu Sans', 'Liberation Sans', sans-serif" font-size="17.6" fill="#000">4</text>
<text x="122.6" y="179.1" text-anchor="end" font-family="'DejaVu Sans', 'Liberation Sans', sans-serif" font-size="17.6" fill="#000">5</text>
<text x="1099" y="366" font-family="'DejaVu Sans', 'Liberation Sans', sans-serif" font-size="17.6" fill="#000">0</text>
<text x="1099" y="325.6" font-family="'DejaVu Sans', 'Liberation Sans', sans-serif" font-size="17.6" fill="#000">1.5</text>
<text x="1099" y="291" font-family="'DejaVu Sans', 'Liberation Sans', sans-serif" font-size="17.6" fill="#000">3.5</text>
<text x="1099" y="252.3" font-family="'DejaVu Sans', 'Liberation Sans', sans-serif" font-size="17.6" fill="#000">6.0</text>
<text x="1099" y="214.7" font-family="'DejaVu Sans', 'Liberation Sans', sans-serif" font-size="17.6" fill="#000">9.0</text>
<text x="1099" y="179.3" font-family="'DejaVu Sans', 'Liberation Sans', sans-serif" font-size="17.6" fill="#000">14</text>
<text x="45.8" y="366.1" font-family="'DejaVu Sans', 'Liberation Sans', sans-serif" font-size="17.6" fill="#ff0000">5</text>
<text x="45.8" y="328.7" font-family="'DejaVu Sans', 'Liberation Sans', sans-serif" font-size="17.6" fill="#ff0000">8</text>
<text x="45.8" y="291.3" font-family="'DejaVu Sans', 'Liberation Sans', sans-serif" font-size="17.6" fill="#ff0000">11</text>
<text x="45.8" y="253.9" font-family="'DejaVu Sans', 'Liberation Sans', sans-serif" font-size="17.6" fill="#ff0000">14</text>
<text x="45.8" y="216.5" font-family="'DejaVu Sans', 'Liberation Sans', sans-serif" font-size="17.6" fill="#ff0000">17</text>
<text x="45.8" y="179.1" font-family="'DejaVu Sans', 'Liberation Sans', sans-serif" font-size="17.6" fill="#ff0000">20</text>
<text transform="translate(35.2,348.7) rotate(-90)" font-family="'DejaVu Sans', 'Liberation Sans', sans-serif" font-size="19.4" textLength="164.6" lengthAdjust="spacingAndGlyphs" fill="#ff0000">Temperatura (°C)</text>
<text transform="translate(99.8,346.4) rotate(-90)" font-family="'DejaVu Sans', 'Liberation Sans', sans-serif" font-size="19.4" textLength="165.6" lengthAdjust="spacingAndGlyphs" fill="#000">Padavine (mm/h)</text>
<text transform="translate(1144.6,348.2) rotate(-90)" font-family="'DejaVu Sans', 'Liberation Sans', sans-serif" font-size="19.4" textLength="187.6" lengthAdjust="spacingAndGlyphs" fill="#000">Višina oblakov (km)</text>
<rect x="127" y="390.3" width="32" height="10.5" fill="#0652fb"/>
<rect x="165" y="386" width="105" height="19.6" fill="#fff"/>
<text x="169" y="402.2" font-family="'Liberation Sans', Arial, sans-serif" font-size="18.67" textLength="34" lengthAdjust="spacingAndGlyphs" fill="#000">Dež</text>
<rect x="277.8" y="390.3" width="32.5" height="10.5" fill="#17d8c6"/>
<rect x="310.3" y="386" width="109.7" height="19.6" fill="#fff"/>
<text x="319.6" y="402.2" font-family="'Liberation Sans', Arial, sans-serif" font-size="18.67" textLength="114" lengthAdjust="spacingAndGlyphs" fill="#000">Možnost ploh</text>
<text x="500" y="402" font-family="'Liberation Sans', Arial, sans-serif" font-size="15.8" fill="#0000ff">© vreme.us &amp; vreme.pro</text>
<rect x="757" y="386" width="183" height="19.6" fill="#fff"/>
<text x="759.5" y="402.2" font-family="'Liberation Sans', Arial, sans-serif" font-size="18.67" textLength="176" lengthAdjust="spacingAndGlyphs" fill="#000">Gostota oblakov (%)</text>
<rect x="949.2" y="385.5" width="29.2" height="13" fill="#d0d0d0"/>
<rect x="978.3" y="385.5" width="29.2" height="13" fill="#b0b0b0"/>
<rect x="1007.4" y="385.5" width="29.2" height="13" fill="#929292"/>
<rect x="1036.5" y="385.5" width="29.2" height="13" fill="#747474"/>
<rect x="1065.6" y="385.5" width="29.2" height="13" fill="#585858"/>
<rect x="949.2" y="385.5" width="145.5" height="13" fill="none" stroke="#111" stroke-width="1"/>
<text x="949.2" y="416" text-anchor="middle" font-family="'DejaVu Sans', 'Liberation Sans', sans-serif" font-size="16" fill="#000">10</text>
<text x="978.3" y="416" text-anchor="middle" font-family="'DejaVu Sans', 'Liberation Sans', sans-serif" font-size="16" fill="#000">25</text>
<text x="1007.4" y="416" text-anchor="middle" font-family="'DejaVu Sans', 'Liberation Sans', sans-serif" font-size="16" fill="#000">50</text>
<text x="1036.5" y="416" text-anchor="middle" font-family="'DejaVu Sans', 'Liberation Sans', sans-serif" font-size="16" fill="#000">75</text>
<text x="1065.6" y="416" text-anchor="middle" font-family="'DejaVu Sans', 'Liberation Sans', sans-serif" font-size="16" fill="#000">90</text>
<text x="1094.7" y="416" text-anchor="middle" font-family="'DejaVu Sans', 'Liberation Sans', sans-serif" font-size="16" fill="#000">100</text>
</svg></body></html>
